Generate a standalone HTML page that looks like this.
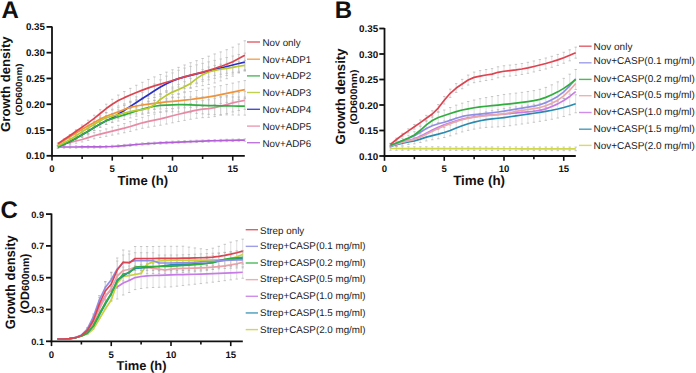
<!DOCTYPE html><html><head><meta charset="utf-8"><style>html,body{margin:0;padding:0;background:#fff;}svg{display:block;}text{text-rendering:geometricPrecision;}</style></head><body><svg width="696" height="373" viewBox="0 0 696 373">
<rect width="696" height="373" fill="#fff"/>
<text x="1.6" y="17.6" font-size="24" font-weight="bold" font-family="Liberation Sans, sans-serif" fill="#111">A</text>
<line x1="52" y1="26.5" x2="52" y2="156.70000000000002" stroke="#111" stroke-width="1.8"/>
<line x1="51.1" y1="155.8" x2="244.8" y2="155.8" stroke="#111" stroke-width="1.8"/>
<line x1="46.5" y1="155.80" x2="52" y2="155.80" stroke="#111" stroke-width="1.8"/>
<text x="45" y="159.30" text-anchor="end" font-size="9.8" font-weight="bold" font-family="Liberation Sans, sans-serif" fill="#111">0.10</text>
<line x1="46.5" y1="130.02" x2="52" y2="130.02" stroke="#111" stroke-width="1.8"/>
<text x="45" y="133.52" text-anchor="end" font-size="9.8" font-weight="bold" font-family="Liberation Sans, sans-serif" fill="#111">0.15</text>
<line x1="46.5" y1="104.24" x2="52" y2="104.24" stroke="#111" stroke-width="1.8"/>
<text x="45" y="107.74" text-anchor="end" font-size="9.8" font-weight="bold" font-family="Liberation Sans, sans-serif" fill="#111">0.20</text>
<line x1="46.5" y1="78.46" x2="52" y2="78.46" stroke="#111" stroke-width="1.8"/>
<text x="45" y="81.96" text-anchor="end" font-size="9.8" font-weight="bold" font-family="Liberation Sans, sans-serif" fill="#111">0.25</text>
<line x1="46.5" y1="52.68" x2="52" y2="52.68" stroke="#111" stroke-width="1.8"/>
<text x="45" y="56.18" text-anchor="end" font-size="9.8" font-weight="bold" font-family="Liberation Sans, sans-serif" fill="#111">0.30</text>
<line x1="46.5" y1="26.90" x2="52" y2="26.90" stroke="#111" stroke-width="1.8"/>
<text x="45" y="30.40" text-anchor="end" font-size="9.8" font-weight="bold" font-family="Liberation Sans, sans-serif" fill="#111">0.35</text>
<line x1="52.00" y1="155.8" x2="52.00" y2="160.60000000000002" stroke="#111" stroke-width="1.6"/>
<text x="52.00" y="172.2" text-anchor="middle" font-size="9.6" font-weight="bold" font-family="Liberation Sans, sans-serif" fill="#111">0</text>
<line x1="112.25" y1="155.8" x2="112.25" y2="160.60000000000002" stroke="#111" stroke-width="1.6"/>
<text x="112.25" y="172.2" text-anchor="middle" font-size="9.6" font-weight="bold" font-family="Liberation Sans, sans-serif" fill="#111">5</text>
<line x1="172.50" y1="155.8" x2="172.50" y2="160.60000000000002" stroke="#111" stroke-width="1.6"/>
<text x="172.50" y="172.2" text-anchor="middle" font-size="9.6" font-weight="bold" font-family="Liberation Sans, sans-serif" fill="#111">10</text>
<line x1="232.75" y1="155.8" x2="232.75" y2="160.60000000000002" stroke="#111" stroke-width="1.6"/>
<text x="232.75" y="172.2" text-anchor="middle" font-size="9.6" font-weight="bold" font-family="Liberation Sans, sans-serif" fill="#111">15</text>
<line x1="82.12" y1="155.8" x2="82.12" y2="159.0" stroke="#111" stroke-width="1.6"/>
<line x1="142.38" y1="155.8" x2="142.38" y2="159.0" stroke="#111" stroke-width="1.6"/>
<line x1="202.62" y1="155.8" x2="202.62" y2="159.0" stroke="#111" stroke-width="1.6"/>
<text transform="translate(10.2,131.9) rotate(-90)" font-size="13" font-weight="bold" font-family="Liberation Sans, sans-serif" fill="#111" textLength="95.5" lengthAdjust="spacingAndGlyphs">Growth density</text>
<text transform="translate(21.8,115.6) rotate(-90)" font-size="9" font-weight="bold" font-family="Liberation Sans, sans-serif" fill="#111" textLength="52" lengthAdjust="spacingAndGlyphs">(OD600nm)</text>
<text x="117.4" y="185" font-size="13.1" font-weight="bold" font-family="Liberation Sans, sans-serif" fill="#111">Time (h)</text>
<path d="M58.02,144.08 V146.68" stroke="#c4c4c4" stroke-width="0.55" fill="none"/>
<path d="M56.82,144.08 h2.4 M56.82,146.68 h2.4" stroke="#a4a4a4" stroke-width="0.6" fill="none"/>
<path d="M64.05,142.34 V145.54" stroke="#c4c4c4" stroke-width="0.55" fill="none"/>
<path d="M62.85,142.34 h2.4 M62.85,145.54 h2.4" stroke="#a4a4a4" stroke-width="0.6" fill="none"/>
<path d="M70.08,140.58 V144.38" stroke="#c4c4c4" stroke-width="0.55" fill="none"/>
<path d="M68.88,140.58 h2.4 M68.88,144.38 h2.4" stroke="#a4a4a4" stroke-width="0.6" fill="none"/>
<path d="M76.10,138.82 V143.22" stroke="#c4c4c4" stroke-width="0.55" fill="none"/>
<path d="M74.90,138.82 h2.4 M74.90,143.22 h2.4" stroke="#a4a4a4" stroke-width="0.6" fill="none"/>
<path d="M82.12,136.97 V141.97" stroke="#c4c4c4" stroke-width="0.55" fill="none"/>
<path d="M80.92,136.97 h2.4 M80.92,141.97 h2.4" stroke="#a4a4a4" stroke-width="0.6" fill="none"/>
<path d="M88.15,134.82 V140.42" stroke="#c4c4c4" stroke-width="0.55" fill="none"/>
<path d="M86.95,134.82 h2.4 M86.95,140.42 h2.4" stroke="#a4a4a4" stroke-width="0.6" fill="none"/>
<path d="M94.18,132.64 V138.84" stroke="#c4c4c4" stroke-width="0.55" fill="none"/>
<path d="M92.98,132.64 h2.4 M92.98,138.84 h2.4" stroke="#a4a4a4" stroke-width="0.6" fill="none"/>
<path d="M100.20,130.71 V137.51" stroke="#c4c4c4" stroke-width="0.55" fill="none"/>
<path d="M99.00,130.71 h2.4 M99.00,137.51 h2.4" stroke="#a4a4a4" stroke-width="0.6" fill="none"/>
<path d="M106.22,128.91 V136.31" stroke="#c4c4c4" stroke-width="0.55" fill="none"/>
<path d="M105.02,128.91 h2.4 M105.02,136.31 h2.4" stroke="#a4a4a4" stroke-width="0.6" fill="none"/>
<path d="M112.25,127.11 V135.11" stroke="#c4c4c4" stroke-width="0.55" fill="none"/>
<path d="M111.05,127.11 h2.4 M111.05,135.11 h2.4" stroke="#a4a4a4" stroke-width="0.6" fill="none"/>
<path d="M118.28,125.35 V133.95" stroke="#c4c4c4" stroke-width="0.55" fill="none"/>
<path d="M117.08,125.35 h2.4 M117.08,133.95 h2.4" stroke="#a4a4a4" stroke-width="0.6" fill="none"/>
<path d="M124.30,123.56 V132.76" stroke="#c4c4c4" stroke-width="0.55" fill="none"/>
<path d="M123.10,123.56 h2.4 M123.10,132.76 h2.4" stroke="#a4a4a4" stroke-width="0.6" fill="none"/>
<path d="M130.32,121.60 V131.40" stroke="#c4c4c4" stroke-width="0.55" fill="none"/>
<path d="M129.12,121.60 h2.4 M129.12,131.40 h2.4" stroke="#a4a4a4" stroke-width="0.6" fill="none"/>
<path d="M136.35,119.40 V129.80" stroke="#c4c4c4" stroke-width="0.55" fill="none"/>
<path d="M135.15,119.40 h2.4 M135.15,129.80 h2.4" stroke="#a4a4a4" stroke-width="0.6" fill="none"/>
<path d="M142.38,117.31 V128.31" stroke="#c4c4c4" stroke-width="0.55" fill="none"/>
<path d="M141.18,117.31 h2.4 M141.18,128.31 h2.4" stroke="#a4a4a4" stroke-width="0.6" fill="none"/>
<path d="M148.40,115.58 V127.18" stroke="#c4c4c4" stroke-width="0.55" fill="none"/>
<path d="M147.20,115.58 h2.4 M147.20,127.18 h2.4" stroke="#a4a4a4" stroke-width="0.6" fill="none"/>
<path d="M154.43,114.01 V126.21" stroke="#c4c4c4" stroke-width="0.55" fill="none"/>
<path d="M153.23,114.01 h2.4 M153.23,126.21 h2.4" stroke="#a4a4a4" stroke-width="0.6" fill="none"/>
<path d="M160.45,112.42 V125.22" stroke="#c4c4c4" stroke-width="0.55" fill="none"/>
<path d="M159.25,112.42 h2.4 M159.25,125.22 h2.4" stroke="#a4a4a4" stroke-width="0.6" fill="none"/>
<path d="M166.48,110.66 V124.06" stroke="#c4c4c4" stroke-width="0.55" fill="none"/>
<path d="M165.28,110.66 h2.4 M165.28,124.06 h2.4" stroke="#a4a4a4" stroke-width="0.6" fill="none"/>
<path d="M172.50,108.80 V122.80" stroke="#c4c4c4" stroke-width="0.55" fill="none"/>
<path d="M171.30,108.80 h2.4 M171.30,122.80 h2.4" stroke="#a4a4a4" stroke-width="0.6" fill="none"/>
<path d="M178.53,106.96 V121.56" stroke="#c4c4c4" stroke-width="0.55" fill="none"/>
<path d="M177.33,106.96 h2.4 M177.33,121.56 h2.4" stroke="#a4a4a4" stroke-width="0.6" fill="none"/>
<path d="M184.55,105.21 V120.41" stroke="#c4c4c4" stroke-width="0.55" fill="none"/>
<path d="M183.35,105.21 h2.4 M183.35,120.41 h2.4" stroke="#a4a4a4" stroke-width="0.6" fill="none"/>
<path d="M190.58,103.47 V119.27" stroke="#c4c4c4" stroke-width="0.55" fill="none"/>
<path d="M189.38,103.47 h2.4 M189.38,119.27 h2.4" stroke="#a4a4a4" stroke-width="0.6" fill="none"/>
<path d="M196.60,101.87 V118.27" stroke="#c4c4c4" stroke-width="0.55" fill="none"/>
<path d="M195.40,101.87 h2.4 M195.40,118.27 h2.4" stroke="#a4a4a4" stroke-width="0.6" fill="none"/>
<path d="M202.62,100.67 V117.67" stroke="#c4c4c4" stroke-width="0.55" fill="none"/>
<path d="M201.43,100.67 h2.4 M201.43,117.67 h2.4" stroke="#a4a4a4" stroke-width="0.6" fill="none"/>
<path d="M208.65,99.75 V117.35" stroke="#c4c4c4" stroke-width="0.55" fill="none"/>
<path d="M207.45,99.75 h2.4 M207.45,117.35 h2.4" stroke="#a4a4a4" stroke-width="0.6" fill="none"/>
<path d="M214.68,98.62 V116.62" stroke="#c4c4c4" stroke-width="0.55" fill="none"/>
<path d="M213.48,98.62 h2.4 M213.48,116.62 h2.4" stroke="#a4a4a4" stroke-width="0.6" fill="none"/>
<path d="M220.70,97.18 V115.18" stroke="#c4c4c4" stroke-width="0.55" fill="none"/>
<path d="M219.50,97.18 h2.4 M219.50,115.18 h2.4" stroke="#a4a4a4" stroke-width="0.6" fill="none"/>
<path d="M226.73,95.52 V113.52" stroke="#c4c4c4" stroke-width="0.55" fill="none"/>
<path d="M225.53,95.52 h2.4 M225.53,113.52 h2.4" stroke="#a4a4a4" stroke-width="0.6" fill="none"/>
<path d="M232.75,93.94 V111.94" stroke="#c4c4c4" stroke-width="0.55" fill="none"/>
<path d="M231.55,93.94 h2.4 M231.55,111.94 h2.4" stroke="#a4a4a4" stroke-width="0.6" fill="none"/>
<path d="M238.78,92.51 V110.51" stroke="#c4c4c4" stroke-width="0.55" fill="none"/>
<path d="M237.58,92.51 h2.4 M237.58,110.51 h2.4" stroke="#a4a4a4" stroke-width="0.6" fill="none"/>
<path d="M244.80,91.30 V109.30" stroke="#c4c4c4" stroke-width="0.55" fill="none"/>
<path d="M243.60,91.30 h2.4 M243.60,109.30 h2.4" stroke="#a4a4a4" stroke-width="0.6" fill="none"/>
<path d="M58.02,145.80 V148.20" stroke="#c4c4c4" stroke-width="0.55" fill="none"/>
<path d="M56.82,145.80 h2.4 M56.82,148.20 h2.4" stroke="#a4a4a4" stroke-width="0.6" fill="none"/>
<path d="M64.05,145.80 V148.20" stroke="#c4c4c4" stroke-width="0.55" fill="none"/>
<path d="M62.85,145.80 h2.4 M62.85,148.20 h2.4" stroke="#a4a4a4" stroke-width="0.6" fill="none"/>
<path d="M70.08,145.79 V148.19" stroke="#c4c4c4" stroke-width="0.55" fill="none"/>
<path d="M68.88,145.79 h2.4 M68.88,148.19 h2.4" stroke="#a4a4a4" stroke-width="0.6" fill="none"/>
<path d="M76.10,145.78 V148.18" stroke="#c4c4c4" stroke-width="0.55" fill="none"/>
<path d="M74.90,145.78 h2.4 M74.90,148.18 h2.4" stroke="#a4a4a4" stroke-width="0.6" fill="none"/>
<path d="M82.12,145.76 V148.16" stroke="#c4c4c4" stroke-width="0.55" fill="none"/>
<path d="M80.92,145.76 h2.4 M80.92,148.16 h2.4" stroke="#a4a4a4" stroke-width="0.6" fill="none"/>
<path d="M88.15,145.75 V148.15" stroke="#c4c4c4" stroke-width="0.55" fill="none"/>
<path d="M86.95,145.75 h2.4 M86.95,148.15 h2.4" stroke="#a4a4a4" stroke-width="0.6" fill="none"/>
<path d="M94.18,145.72 V148.12" stroke="#c4c4c4" stroke-width="0.55" fill="none"/>
<path d="M92.98,145.72 h2.4 M92.98,148.12 h2.4" stroke="#a4a4a4" stroke-width="0.6" fill="none"/>
<path d="M100.20,145.70 V148.10" stroke="#c4c4c4" stroke-width="0.55" fill="none"/>
<path d="M99.00,145.70 h2.4 M99.00,148.10 h2.4" stroke="#a4a4a4" stroke-width="0.6" fill="none"/>
<path d="M106.22,145.57 V147.97" stroke="#c4c4c4" stroke-width="0.55" fill="none"/>
<path d="M105.02,145.57 h2.4 M105.02,147.97 h2.4" stroke="#a4a4a4" stroke-width="0.6" fill="none"/>
<path d="M112.25,145.28 V147.68" stroke="#c4c4c4" stroke-width="0.55" fill="none"/>
<path d="M111.05,145.28 h2.4 M111.05,147.68 h2.4" stroke="#a4a4a4" stroke-width="0.6" fill="none"/>
<path d="M118.28,144.87 V147.27" stroke="#c4c4c4" stroke-width="0.55" fill="none"/>
<path d="M117.08,144.87 h2.4 M117.08,147.27 h2.4" stroke="#a4a4a4" stroke-width="0.6" fill="none"/>
<path d="M124.30,144.38 V146.78" stroke="#c4c4c4" stroke-width="0.55" fill="none"/>
<path d="M123.10,144.38 h2.4 M123.10,146.78 h2.4" stroke="#a4a4a4" stroke-width="0.6" fill="none"/>
<path d="M130.32,143.84 V146.24" stroke="#c4c4c4" stroke-width="0.55" fill="none"/>
<path d="M129.12,143.84 h2.4 M129.12,146.24 h2.4" stroke="#a4a4a4" stroke-width="0.6" fill="none"/>
<path d="M136.35,143.31 V145.71" stroke="#c4c4c4" stroke-width="0.55" fill="none"/>
<path d="M135.15,143.31 h2.4 M135.15,145.71 h2.4" stroke="#a4a4a4" stroke-width="0.6" fill="none"/>
<path d="M142.38,142.81 V145.21" stroke="#c4c4c4" stroke-width="0.55" fill="none"/>
<path d="M141.18,142.81 h2.4 M141.18,145.21 h2.4" stroke="#a4a4a4" stroke-width="0.6" fill="none"/>
<path d="M148.40,142.39 V144.79" stroke="#c4c4c4" stroke-width="0.55" fill="none"/>
<path d="M147.20,142.39 h2.4 M147.20,144.79 h2.4" stroke="#a4a4a4" stroke-width="0.6" fill="none"/>
<path d="M154.43,142.06 V144.46" stroke="#c4c4c4" stroke-width="0.55" fill="none"/>
<path d="M153.23,142.06 h2.4 M153.23,144.46 h2.4" stroke="#a4a4a4" stroke-width="0.6" fill="none"/>
<path d="M160.45,141.74 V144.14" stroke="#c4c4c4" stroke-width="0.55" fill="none"/>
<path d="M159.25,141.74 h2.4 M159.25,144.14 h2.4" stroke="#a4a4a4" stroke-width="0.6" fill="none"/>
<path d="M166.48,141.43 V143.83" stroke="#c4c4c4" stroke-width="0.55" fill="none"/>
<path d="M165.28,141.43 h2.4 M165.28,143.83 h2.4" stroke="#a4a4a4" stroke-width="0.6" fill="none"/>
<path d="M172.50,141.13 V143.53" stroke="#c4c4c4" stroke-width="0.55" fill="none"/>
<path d="M171.30,141.13 h2.4 M171.30,143.53 h2.4" stroke="#a4a4a4" stroke-width="0.6" fill="none"/>
<path d="M178.53,140.84 V143.24" stroke="#c4c4c4" stroke-width="0.55" fill="none"/>
<path d="M177.33,140.84 h2.4 M177.33,143.24 h2.4" stroke="#a4a4a4" stroke-width="0.6" fill="none"/>
<path d="M184.55,140.58 V142.98" stroke="#c4c4c4" stroke-width="0.55" fill="none"/>
<path d="M183.35,140.58 h2.4 M183.35,142.98 h2.4" stroke="#a4a4a4" stroke-width="0.6" fill="none"/>
<path d="M190.58,140.34 V142.74" stroke="#c4c4c4" stroke-width="0.55" fill="none"/>
<path d="M189.38,140.34 h2.4 M189.38,142.74 h2.4" stroke="#a4a4a4" stroke-width="0.6" fill="none"/>
<path d="M196.60,140.11 V142.51" stroke="#c4c4c4" stroke-width="0.55" fill="none"/>
<path d="M195.40,140.11 h2.4 M195.40,142.51 h2.4" stroke="#a4a4a4" stroke-width="0.6" fill="none"/>
<path d="M202.62,139.92 V142.32" stroke="#c4c4c4" stroke-width="0.55" fill="none"/>
<path d="M201.43,139.92 h2.4 M201.43,142.32 h2.4" stroke="#a4a4a4" stroke-width="0.6" fill="none"/>
<path d="M208.65,139.73 V142.13" stroke="#c4c4c4" stroke-width="0.55" fill="none"/>
<path d="M207.45,139.73 h2.4 M207.45,142.13 h2.4" stroke="#a4a4a4" stroke-width="0.6" fill="none"/>
<path d="M214.68,139.55 V141.95" stroke="#c4c4c4" stroke-width="0.55" fill="none"/>
<path d="M213.48,139.55 h2.4 M213.48,141.95 h2.4" stroke="#a4a4a4" stroke-width="0.6" fill="none"/>
<path d="M220.70,139.39 V141.79" stroke="#c4c4c4" stroke-width="0.55" fill="none"/>
<path d="M219.50,139.39 h2.4 M219.50,141.79 h2.4" stroke="#a4a4a4" stroke-width="0.6" fill="none"/>
<path d="M226.73,139.24 V141.64" stroke="#c4c4c4" stroke-width="0.55" fill="none"/>
<path d="M225.53,139.24 h2.4 M225.53,141.64 h2.4" stroke="#a4a4a4" stroke-width="0.6" fill="none"/>
<path d="M232.75,139.10 V141.50" stroke="#c4c4c4" stroke-width="0.55" fill="none"/>
<path d="M231.55,139.10 h2.4 M231.55,141.50 h2.4" stroke="#a4a4a4" stroke-width="0.6" fill="none"/>
<path d="M238.78,138.99 V141.39" stroke="#c4c4c4" stroke-width="0.55" fill="none"/>
<path d="M237.58,138.99 h2.4 M237.58,141.39 h2.4" stroke="#a4a4a4" stroke-width="0.6" fill="none"/>
<path d="M244.80,138.90 V141.30" stroke="#c4c4c4" stroke-width="0.55" fill="none"/>
<path d="M243.60,138.90 h2.4 M243.60,141.30 h2.4" stroke="#a4a4a4" stroke-width="0.6" fill="none"/>
<path d="M64.05,143.49 V145.09" stroke="#c4c4c4" stroke-width="0.55" fill="none"/>
<path d="M62.85,143.49 h2.4 M62.85,145.09 h2.4" stroke="#a4a4a4" stroke-width="0.6" fill="none"/>
<path d="M70.08,140.26 V142.66" stroke="#c4c4c4" stroke-width="0.55" fill="none"/>
<path d="M68.88,140.26 h2.4 M68.88,142.66 h2.4" stroke="#a4a4a4" stroke-width="0.6" fill="none"/>
<path d="M76.10,136.62 V139.82" stroke="#c4c4c4" stroke-width="0.55" fill="none"/>
<path d="M74.90,136.62 h2.4 M74.90,139.82 h2.4" stroke="#a4a4a4" stroke-width="0.6" fill="none"/>
<path d="M82.12,132.73 V136.73" stroke="#c4c4c4" stroke-width="0.55" fill="none"/>
<path d="M80.92,132.73 h2.4 M80.92,136.73 h2.4" stroke="#a4a4a4" stroke-width="0.6" fill="none"/>
<path d="M88.15,128.77 V133.57" stroke="#c4c4c4" stroke-width="0.55" fill="none"/>
<path d="M86.95,128.77 h2.4 M86.95,133.57 h2.4" stroke="#a4a4a4" stroke-width="0.6" fill="none"/>
<path d="M94.18,124.80 V130.40" stroke="#c4c4c4" stroke-width="0.55" fill="none"/>
<path d="M92.98,124.80 h2.4 M92.98,130.40 h2.4" stroke="#a4a4a4" stroke-width="0.6" fill="none"/>
<path d="M100.20,120.76 V127.16" stroke="#c4c4c4" stroke-width="0.55" fill="none"/>
<path d="M99.00,120.76 h2.4 M99.00,127.16 h2.4" stroke="#a4a4a4" stroke-width="0.6" fill="none"/>
<path d="M106.22,117.10 V124.30" stroke="#c4c4c4" stroke-width="0.55" fill="none"/>
<path d="M105.02,117.10 h2.4 M105.02,124.30 h2.4" stroke="#a4a4a4" stroke-width="0.6" fill="none"/>
<path d="M112.25,114.10 V122.10" stroke="#c4c4c4" stroke-width="0.55" fill="none"/>
<path d="M111.05,114.10 h2.4 M111.05,122.10 h2.4" stroke="#a4a4a4" stroke-width="0.6" fill="none"/>
<path d="M118.28,109.82 V118.62" stroke="#c4c4c4" stroke-width="0.55" fill="none"/>
<path d="M117.08,109.82 h2.4 M117.08,118.62 h2.4" stroke="#a4a4a4" stroke-width="0.6" fill="none"/>
<path d="M124.30,105.47 V115.07" stroke="#c4c4c4" stroke-width="0.55" fill="none"/>
<path d="M123.10,105.47 h2.4 M123.10,115.07 h2.4" stroke="#a4a4a4" stroke-width="0.6" fill="none"/>
<path d="M130.32,101.15 V111.55" stroke="#c4c4c4" stroke-width="0.55" fill="none"/>
<path d="M129.12,101.15 h2.4 M129.12,111.55 h2.4" stroke="#a4a4a4" stroke-width="0.6" fill="none"/>
<path d="M136.35,96.83 V108.03" stroke="#c4c4c4" stroke-width="0.55" fill="none"/>
<path d="M135.15,96.83 h2.4 M135.15,108.03 h2.4" stroke="#a4a4a4" stroke-width="0.6" fill="none"/>
<path d="M142.38,92.53 V104.53" stroke="#c4c4c4" stroke-width="0.55" fill="none"/>
<path d="M141.18,92.53 h2.4 M141.18,104.53 h2.4" stroke="#a4a4a4" stroke-width="0.6" fill="none"/>
<path d="M148.40,88.31 V101.11" stroke="#c4c4c4" stroke-width="0.55" fill="none"/>
<path d="M147.20,88.31 h2.4 M147.20,101.11 h2.4" stroke="#a4a4a4" stroke-width="0.6" fill="none"/>
<path d="M154.43,84.03 V97.63" stroke="#c4c4c4" stroke-width="0.55" fill="none"/>
<path d="M153.23,84.03 h2.4 M153.23,97.63 h2.4" stroke="#a4a4a4" stroke-width="0.6" fill="none"/>
<path d="M160.45,79.84 V94.24" stroke="#c4c4c4" stroke-width="0.55" fill="none"/>
<path d="M159.25,79.84 h2.4 M159.25,94.24 h2.4" stroke="#a4a4a4" stroke-width="0.6" fill="none"/>
<path d="M166.48,76.14 V91.34" stroke="#c4c4c4" stroke-width="0.55" fill="none"/>
<path d="M165.28,76.14 h2.4 M165.28,91.34 h2.4" stroke="#a4a4a4" stroke-width="0.6" fill="none"/>
<path d="M172.50,72.90 V88.90" stroke="#c4c4c4" stroke-width="0.55" fill="none"/>
<path d="M171.30,72.90 h2.4 M171.30,88.90 h2.4" stroke="#a4a4a4" stroke-width="0.6" fill="none"/>
<path d="M178.53,70.26 V87.06" stroke="#c4c4c4" stroke-width="0.55" fill="none"/>
<path d="M177.33,70.26 h2.4 M177.33,87.06 h2.4" stroke="#a4a4a4" stroke-width="0.6" fill="none"/>
<path d="M184.55,68.05 V85.65" stroke="#c4c4c4" stroke-width="0.55" fill="none"/>
<path d="M183.35,68.05 h2.4 M183.35,85.65 h2.4" stroke="#a4a4a4" stroke-width="0.6" fill="none"/>
<path d="M190.58,66.36 V84.36" stroke="#c4c4c4" stroke-width="0.55" fill="none"/>
<path d="M189.38,66.36 h2.4 M189.38,84.36 h2.4" stroke="#a4a4a4" stroke-width="0.6" fill="none"/>
<path d="M196.60,64.85 V82.85" stroke="#c4c4c4" stroke-width="0.55" fill="none"/>
<path d="M195.40,64.85 h2.4 M195.40,82.85 h2.4" stroke="#a4a4a4" stroke-width="0.6" fill="none"/>
<path d="M202.62,63.36 V81.36" stroke="#c4c4c4" stroke-width="0.55" fill="none"/>
<path d="M201.43,63.36 h2.4 M201.43,81.36 h2.4" stroke="#a4a4a4" stroke-width="0.6" fill="none"/>
<path d="M208.65,61.87 V79.87" stroke="#c4c4c4" stroke-width="0.55" fill="none"/>
<path d="M207.45,61.87 h2.4 M207.45,79.87 h2.4" stroke="#a4a4a4" stroke-width="0.6" fill="none"/>
<path d="M214.68,60.41 V78.41" stroke="#c4c4c4" stroke-width="0.55" fill="none"/>
<path d="M213.48,60.41 h2.4 M213.48,78.41 h2.4" stroke="#a4a4a4" stroke-width="0.6" fill="none"/>
<path d="M220.70,58.97 V76.97" stroke="#c4c4c4" stroke-width="0.55" fill="none"/>
<path d="M219.50,58.97 h2.4 M219.50,76.97 h2.4" stroke="#a4a4a4" stroke-width="0.6" fill="none"/>
<path d="M226.73,57.52 V75.52" stroke="#c4c4c4" stroke-width="0.55" fill="none"/>
<path d="M225.53,57.52 h2.4 M225.53,75.52 h2.4" stroke="#a4a4a4" stroke-width="0.6" fill="none"/>
<path d="M232.75,56.04 V74.04" stroke="#c4c4c4" stroke-width="0.55" fill="none"/>
<path d="M231.55,56.04 h2.4 M231.55,74.04 h2.4" stroke="#a4a4a4" stroke-width="0.6" fill="none"/>
<path d="M238.78,54.49 V72.49" stroke="#c4c4c4" stroke-width="0.55" fill="none"/>
<path d="M237.58,54.49 h2.4 M237.58,72.49 h2.4" stroke="#a4a4a4" stroke-width="0.6" fill="none"/>
<path d="M244.80,53.10 V71.10" stroke="#c4c4c4" stroke-width="0.55" fill="none"/>
<path d="M243.60,53.10 h2.4 M243.60,71.10 h2.4" stroke="#a4a4a4" stroke-width="0.6" fill="none"/>
<path d="M58.02,142.88 V145.48" stroke="#c4c4c4" stroke-width="0.55" fill="none"/>
<path d="M56.82,142.88 h2.4 M56.82,145.48 h2.4" stroke="#a4a4a4" stroke-width="0.6" fill="none"/>
<path d="M64.05,138.87 V142.07" stroke="#c4c4c4" stroke-width="0.55" fill="none"/>
<path d="M62.85,138.87 h2.4 M62.85,142.07 h2.4" stroke="#a4a4a4" stroke-width="0.6" fill="none"/>
<path d="M70.08,134.85 V138.65" stroke="#c4c4c4" stroke-width="0.55" fill="none"/>
<path d="M68.88,134.85 h2.4 M68.88,138.65 h2.4" stroke="#a4a4a4" stroke-width="0.6" fill="none"/>
<path d="M76.10,130.81 V135.21" stroke="#c4c4c4" stroke-width="0.55" fill="none"/>
<path d="M74.90,130.81 h2.4 M74.90,135.21 h2.4" stroke="#a4a4a4" stroke-width="0.6" fill="none"/>
<path d="M82.12,126.83 V131.83" stroke="#c4c4c4" stroke-width="0.55" fill="none"/>
<path d="M80.92,126.83 h2.4 M80.92,131.83 h2.4" stroke="#a4a4a4" stroke-width="0.6" fill="none"/>
<path d="M88.15,122.99 V128.59" stroke="#c4c4c4" stroke-width="0.55" fill="none"/>
<path d="M86.95,122.99 h2.4 M86.95,128.59 h2.4" stroke="#a4a4a4" stroke-width="0.6" fill="none"/>
<path d="M94.18,119.30 V125.50" stroke="#c4c4c4" stroke-width="0.55" fill="none"/>
<path d="M92.98,119.30 h2.4 M92.98,125.50 h2.4" stroke="#a4a4a4" stroke-width="0.6" fill="none"/>
<path d="M100.20,115.71 V122.51" stroke="#c4c4c4" stroke-width="0.55" fill="none"/>
<path d="M99.00,115.71 h2.4 M99.00,122.51 h2.4" stroke="#a4a4a4" stroke-width="0.6" fill="none"/>
<path d="M106.22,112.51 V119.91" stroke="#c4c4c4" stroke-width="0.55" fill="none"/>
<path d="M105.02,112.51 h2.4 M105.02,119.91 h2.4" stroke="#a4a4a4" stroke-width="0.6" fill="none"/>
<path d="M112.25,110.00 V118.00" stroke="#c4c4c4" stroke-width="0.55" fill="none"/>
<path d="M111.05,110.00 h2.4 M111.05,118.00 h2.4" stroke="#a4a4a4" stroke-width="0.6" fill="none"/>
<path d="M118.28,107.61 V116.21" stroke="#c4c4c4" stroke-width="0.55" fill="none"/>
<path d="M117.08,107.61 h2.4 M117.08,116.21 h2.4" stroke="#a4a4a4" stroke-width="0.6" fill="none"/>
<path d="M124.30,104.82 V114.02" stroke="#c4c4c4" stroke-width="0.55" fill="none"/>
<path d="M123.10,104.82 h2.4 M123.10,114.02 h2.4" stroke="#a4a4a4" stroke-width="0.6" fill="none"/>
<path d="M130.32,102.42 V112.22" stroke="#c4c4c4" stroke-width="0.55" fill="none"/>
<path d="M129.12,102.42 h2.4 M129.12,112.22 h2.4" stroke="#a4a4a4" stroke-width="0.6" fill="none"/>
<path d="M136.35,100.83 V111.23" stroke="#c4c4c4" stroke-width="0.55" fill="none"/>
<path d="M135.15,100.83 h2.4 M135.15,111.23 h2.4" stroke="#a4a4a4" stroke-width="0.6" fill="none"/>
<path d="M142.38,99.53 V110.53" stroke="#c4c4c4" stroke-width="0.55" fill="none"/>
<path d="M141.18,99.53 h2.4 M141.18,110.53 h2.4" stroke="#a4a4a4" stroke-width="0.6" fill="none"/>
<path d="M148.40,98.33 V109.93" stroke="#c4c4c4" stroke-width="0.55" fill="none"/>
<path d="M147.20,98.33 h2.4 M147.20,109.93 h2.4" stroke="#a4a4a4" stroke-width="0.6" fill="none"/>
<path d="M154.43,97.23 V109.43" stroke="#c4c4c4" stroke-width="0.55" fill="none"/>
<path d="M153.23,97.23 h2.4 M153.23,109.43 h2.4" stroke="#a4a4a4" stroke-width="0.6" fill="none"/>
<path d="M160.45,96.21 V109.01" stroke="#c4c4c4" stroke-width="0.55" fill="none"/>
<path d="M159.25,96.21 h2.4 M159.25,109.01 h2.4" stroke="#a4a4a4" stroke-width="0.6" fill="none"/>
<path d="M166.48,95.27 V108.67" stroke="#c4c4c4" stroke-width="0.55" fill="none"/>
<path d="M165.28,95.27 h2.4 M165.28,108.67 h2.4" stroke="#a4a4a4" stroke-width="0.6" fill="none"/>
<path d="M172.50,94.42 V108.42" stroke="#c4c4c4" stroke-width="0.55" fill="none"/>
<path d="M171.30,94.42 h2.4 M171.30,108.42 h2.4" stroke="#a4a4a4" stroke-width="0.6" fill="none"/>
<path d="M178.53,93.56 V108.16" stroke="#c4c4c4" stroke-width="0.55" fill="none"/>
<path d="M177.33,93.56 h2.4 M177.33,108.16 h2.4" stroke="#a4a4a4" stroke-width="0.6" fill="none"/>
<path d="M184.55,92.61 V107.81" stroke="#c4c4c4" stroke-width="0.55" fill="none"/>
<path d="M183.35,92.61 h2.4 M183.35,107.81 h2.4" stroke="#a4a4a4" stroke-width="0.6" fill="none"/>
<path d="M190.58,91.58 V107.38" stroke="#c4c4c4" stroke-width="0.55" fill="none"/>
<path d="M189.38,91.58 h2.4 M189.38,107.38 h2.4" stroke="#a4a4a4" stroke-width="0.6" fill="none"/>
<path d="M196.60,90.48 V106.88" stroke="#c4c4c4" stroke-width="0.55" fill="none"/>
<path d="M195.40,90.48 h2.4 M195.40,106.88 h2.4" stroke="#a4a4a4" stroke-width="0.6" fill="none"/>
<path d="M202.62,89.32 V106.32" stroke="#c4c4c4" stroke-width="0.55" fill="none"/>
<path d="M201.43,89.32 h2.4 M201.43,106.32 h2.4" stroke="#a4a4a4" stroke-width="0.6" fill="none"/>
<path d="M208.65,88.07 V105.67" stroke="#c4c4c4" stroke-width="0.55" fill="none"/>
<path d="M207.45,88.07 h2.4 M207.45,105.67 h2.4" stroke="#a4a4a4" stroke-width="0.6" fill="none"/>
<path d="M214.68,86.81 V104.81" stroke="#c4c4c4" stroke-width="0.55" fill="none"/>
<path d="M213.48,86.81 h2.4 M213.48,104.81 h2.4" stroke="#a4a4a4" stroke-width="0.6" fill="none"/>
<path d="M220.70,85.65 V103.65" stroke="#c4c4c4" stroke-width="0.55" fill="none"/>
<path d="M219.50,85.65 h2.4 M219.50,103.65 h2.4" stroke="#a4a4a4" stroke-width="0.6" fill="none"/>
<path d="M226.73,84.41 V102.41" stroke="#c4c4c4" stroke-width="0.55" fill="none"/>
<path d="M225.53,84.41 h2.4 M225.53,102.41 h2.4" stroke="#a4a4a4" stroke-width="0.6" fill="none"/>
<path d="M232.75,83.13 V101.13" stroke="#c4c4c4" stroke-width="0.55" fill="none"/>
<path d="M231.55,83.13 h2.4 M231.55,101.13 h2.4" stroke="#a4a4a4" stroke-width="0.6" fill="none"/>
<path d="M238.78,81.81 V99.81" stroke="#c4c4c4" stroke-width="0.55" fill="none"/>
<path d="M237.58,81.81 h2.4 M237.58,99.81 h2.4" stroke="#a4a4a4" stroke-width="0.6" fill="none"/>
<path d="M244.80,80.60 V98.60" stroke="#c4c4c4" stroke-width="0.55" fill="none"/>
<path d="M243.60,80.60 h2.4 M243.60,98.60 h2.4" stroke="#a4a4a4" stroke-width="0.6" fill="none"/>
<path d="M58.02,145.50 V148.10" stroke="#c4c4c4" stroke-width="0.55" fill="none"/>
<path d="M56.82,145.50 h2.4 M56.82,148.10 h2.4" stroke="#a4a4a4" stroke-width="0.6" fill="none"/>
<path d="M64.05,142.69 V145.89" stroke="#c4c4c4" stroke-width="0.55" fill="none"/>
<path d="M62.85,142.69 h2.4 M62.85,145.89 h2.4" stroke="#a4a4a4" stroke-width="0.6" fill="none"/>
<path d="M70.08,139.56 V143.36" stroke="#c4c4c4" stroke-width="0.55" fill="none"/>
<path d="M68.88,139.56 h2.4 M68.88,143.36 h2.4" stroke="#a4a4a4" stroke-width="0.6" fill="none"/>
<path d="M76.10,136.02 V140.42" stroke="#c4c4c4" stroke-width="0.55" fill="none"/>
<path d="M74.90,136.02 h2.4 M74.90,140.42 h2.4" stroke="#a4a4a4" stroke-width="0.6" fill="none"/>
<path d="M82.12,132.23 V137.23" stroke="#c4c4c4" stroke-width="0.55" fill="none"/>
<path d="M80.92,132.23 h2.4 M80.92,137.23 h2.4" stroke="#a4a4a4" stroke-width="0.6" fill="none"/>
<path d="M88.15,128.37 V133.97" stroke="#c4c4c4" stroke-width="0.55" fill="none"/>
<path d="M86.95,128.37 h2.4 M86.95,133.97 h2.4" stroke="#a4a4a4" stroke-width="0.6" fill="none"/>
<path d="M94.18,124.50 V130.70" stroke="#c4c4c4" stroke-width="0.55" fill="none"/>
<path d="M92.98,124.50 h2.4 M92.98,130.70 h2.4" stroke="#a4a4a4" stroke-width="0.6" fill="none"/>
<path d="M100.20,120.48 V127.28" stroke="#c4c4c4" stroke-width="0.55" fill="none"/>
<path d="M99.00,120.48 h2.4 M99.00,127.28 h2.4" stroke="#a4a4a4" stroke-width="0.6" fill="none"/>
<path d="M106.22,117.01 V124.41" stroke="#c4c4c4" stroke-width="0.55" fill="none"/>
<path d="M105.02,117.01 h2.4 M105.02,124.41 h2.4" stroke="#a4a4a4" stroke-width="0.6" fill="none"/>
<path d="M112.25,114.60 V122.60" stroke="#c4c4c4" stroke-width="0.55" fill="none"/>
<path d="M111.05,114.60 h2.4 M111.05,122.60 h2.4" stroke="#a4a4a4" stroke-width="0.6" fill="none"/>
<path d="M118.28,112.45 V121.05" stroke="#c4c4c4" stroke-width="0.55" fill="none"/>
<path d="M117.08,112.45 h2.4 M117.08,121.05 h2.4" stroke="#a4a4a4" stroke-width="0.6" fill="none"/>
<path d="M124.30,110.28 V119.48" stroke="#c4c4c4" stroke-width="0.55" fill="none"/>
<path d="M123.10,110.28 h2.4 M123.10,119.48 h2.4" stroke="#a4a4a4" stroke-width="0.6" fill="none"/>
<path d="M130.32,108.12 V117.92" stroke="#c4c4c4" stroke-width="0.55" fill="none"/>
<path d="M129.12,108.12 h2.4 M129.12,117.92 h2.4" stroke="#a4a4a4" stroke-width="0.6" fill="none"/>
<path d="M136.35,105.80 V116.20" stroke="#c4c4c4" stroke-width="0.55" fill="none"/>
<path d="M135.15,105.80 h2.4 M135.15,116.20 h2.4" stroke="#a4a4a4" stroke-width="0.6" fill="none"/>
<path d="M142.38,103.61 V114.61" stroke="#c4c4c4" stroke-width="0.55" fill="none"/>
<path d="M141.18,103.61 h2.4 M141.18,114.61 h2.4" stroke="#a4a4a4" stroke-width="0.6" fill="none"/>
<path d="M148.40,101.79 V113.39" stroke="#c4c4c4" stroke-width="0.55" fill="none"/>
<path d="M147.20,101.79 h2.4 M147.20,113.39 h2.4" stroke="#a4a4a4" stroke-width="0.6" fill="none"/>
<path d="M154.43,100.12 V112.32" stroke="#c4c4c4" stroke-width="0.55" fill="none"/>
<path d="M153.23,100.12 h2.4 M153.23,112.32 h2.4" stroke="#a4a4a4" stroke-width="0.6" fill="none"/>
<path d="M160.45,98.97 V111.77" stroke="#c4c4c4" stroke-width="0.55" fill="none"/>
<path d="M159.25,98.97 h2.4 M159.25,111.77 h2.4" stroke="#a4a4a4" stroke-width="0.6" fill="none"/>
<path d="M166.48,98.33 V111.73" stroke="#c4c4c4" stroke-width="0.55" fill="none"/>
<path d="M165.28,98.33 h2.4 M165.28,111.73 h2.4" stroke="#a4a4a4" stroke-width="0.6" fill="none"/>
<path d="M172.50,97.78 V111.78" stroke="#c4c4c4" stroke-width="0.55" fill="none"/>
<path d="M171.30,97.78 h2.4 M171.30,111.78 h2.4" stroke="#a4a4a4" stroke-width="0.6" fill="none"/>
<path d="M178.53,97.33 V111.93" stroke="#c4c4c4" stroke-width="0.55" fill="none"/>
<path d="M177.33,97.33 h2.4 M177.33,111.93 h2.4" stroke="#a4a4a4" stroke-width="0.6" fill="none"/>
<path d="M184.55,97.01 V112.21" stroke="#c4c4c4" stroke-width="0.55" fill="none"/>
<path d="M183.35,97.01 h2.4 M183.35,112.21 h2.4" stroke="#a4a4a4" stroke-width="0.6" fill="none"/>
<path d="M190.58,96.94 V112.74" stroke="#c4c4c4" stroke-width="0.55" fill="none"/>
<path d="M189.38,96.94 h2.4 M189.38,112.74 h2.4" stroke="#a4a4a4" stroke-width="0.6" fill="none"/>
<path d="M196.60,96.96 V113.36" stroke="#c4c4c4" stroke-width="0.55" fill="none"/>
<path d="M195.40,96.96 h2.4 M195.40,113.36 h2.4" stroke="#a4a4a4" stroke-width="0.6" fill="none"/>
<path d="M202.62,96.88 V113.88" stroke="#c4c4c4" stroke-width="0.55" fill="none"/>
<path d="M201.43,96.88 h2.4 M201.43,113.88 h2.4" stroke="#a4a4a4" stroke-width="0.6" fill="none"/>
<path d="M208.65,96.74 V114.34" stroke="#c4c4c4" stroke-width="0.55" fill="none"/>
<path d="M207.45,96.74 h2.4 M207.45,114.34 h2.4" stroke="#a4a4a4" stroke-width="0.6" fill="none"/>
<path d="M214.68,96.67 V114.67" stroke="#c4c4c4" stroke-width="0.55" fill="none"/>
<path d="M213.48,96.67 h2.4 M213.48,114.67 h2.4" stroke="#a4a4a4" stroke-width="0.6" fill="none"/>
<path d="M220.70,96.78 V114.78" stroke="#c4c4c4" stroke-width="0.55" fill="none"/>
<path d="M219.50,96.78 h2.4 M219.50,114.78 h2.4" stroke="#a4a4a4" stroke-width="0.6" fill="none"/>
<path d="M226.73,96.89 V114.89" stroke="#c4c4c4" stroke-width="0.55" fill="none"/>
<path d="M225.53,96.89 h2.4 M225.53,114.89 h2.4" stroke="#a4a4a4" stroke-width="0.6" fill="none"/>
<path d="M232.75,96.98 V114.98" stroke="#c4c4c4" stroke-width="0.55" fill="none"/>
<path d="M231.55,96.98 h2.4 M231.55,114.98 h2.4" stroke="#a4a4a4" stroke-width="0.6" fill="none"/>
<path d="M238.78,97.05 V115.05" stroke="#c4c4c4" stroke-width="0.55" fill="none"/>
<path d="M237.58,97.05 h2.4 M237.58,115.05 h2.4" stroke="#a4a4a4" stroke-width="0.6" fill="none"/>
<path d="M244.80,97.10 V115.10" stroke="#c4c4c4" stroke-width="0.55" fill="none"/>
<path d="M243.60,97.10 h2.4 M243.60,115.10 h2.4" stroke="#a4a4a4" stroke-width="0.6" fill="none"/>
<path d="M70.08,138.71 V140.21" stroke="#c4c4c4" stroke-width="0.55" fill="none"/>
<path d="M68.88,138.71 h2.4 M68.88,140.21 h2.4" stroke="#a4a4a4" stroke-width="0.6" fill="none"/>
<path d="M76.10,134.72 V136.72" stroke="#c4c4c4" stroke-width="0.55" fill="none"/>
<path d="M74.90,134.72 h2.4 M74.90,136.72 h2.4" stroke="#a4a4a4" stroke-width="0.6" fill="none"/>
<path d="M82.12,130.57 V133.07" stroke="#c4c4c4" stroke-width="0.55" fill="none"/>
<path d="M80.92,130.57 h2.4 M80.92,133.07 h2.4" stroke="#a4a4a4" stroke-width="0.6" fill="none"/>
<path d="M88.15,126.54 V129.54" stroke="#c4c4c4" stroke-width="0.55" fill="none"/>
<path d="M86.95,126.54 h2.4 M86.95,129.54 h2.4" stroke="#a4a4a4" stroke-width="0.6" fill="none"/>
<path d="M94.18,122.65 V126.15" stroke="#c4c4c4" stroke-width="0.55" fill="none"/>
<path d="M92.98,122.65 h2.4 M92.98,126.15 h2.4" stroke="#a4a4a4" stroke-width="0.6" fill="none"/>
<path d="M100.20,118.75 V122.75" stroke="#c4c4c4" stroke-width="0.55" fill="none"/>
<path d="M99.00,118.75 h2.4 M99.00,122.75 h2.4" stroke="#a4a4a4" stroke-width="0.6" fill="none"/>
<path d="M106.22,115.57 V120.07" stroke="#c4c4c4" stroke-width="0.55" fill="none"/>
<path d="M105.02,115.57 h2.4 M105.02,120.07 h2.4" stroke="#a4a4a4" stroke-width="0.6" fill="none"/>
<path d="M112.25,113.59 V118.59" stroke="#c4c4c4" stroke-width="0.55" fill="none"/>
<path d="M111.05,113.59 h2.4 M111.05,118.59 h2.4" stroke="#a4a4a4" stroke-width="0.6" fill="none"/>
<path d="M118.28,111.85 V117.35" stroke="#c4c4c4" stroke-width="0.55" fill="none"/>
<path d="M117.08,111.85 h2.4 M117.08,117.35 h2.4" stroke="#a4a4a4" stroke-width="0.6" fill="none"/>
<path d="M124.30,110.00 V116.00" stroke="#c4c4c4" stroke-width="0.55" fill="none"/>
<path d="M123.10,110.00 h2.4 M123.10,116.00 h2.4" stroke="#a4a4a4" stroke-width="0.6" fill="none"/>
<path d="M130.32,108.27 V114.77" stroke="#c4c4c4" stroke-width="0.55" fill="none"/>
<path d="M129.12,108.27 h2.4 M129.12,114.77 h2.4" stroke="#a4a4a4" stroke-width="0.6" fill="none"/>
<path d="M136.35,106.93 V113.93" stroke="#c4c4c4" stroke-width="0.55" fill="none"/>
<path d="M135.15,106.93 h2.4 M135.15,113.93 h2.4" stroke="#a4a4a4" stroke-width="0.6" fill="none"/>
<path d="M142.38,105.78 V113.28" stroke="#c4c4c4" stroke-width="0.55" fill="none"/>
<path d="M141.18,105.78 h2.4 M141.18,113.28 h2.4" stroke="#a4a4a4" stroke-width="0.6" fill="none"/>
<path d="M148.40,104.22 V112.22" stroke="#c4c4c4" stroke-width="0.55" fill="none"/>
<path d="M147.20,104.22 h2.4 M147.20,112.22 h2.4" stroke="#a4a4a4" stroke-width="0.6" fill="none"/>
<path d="M154.43,100.54 V109.04" stroke="#c4c4c4" stroke-width="0.55" fill="none"/>
<path d="M153.23,100.54 h2.4 M153.23,109.04 h2.4" stroke="#a4a4a4" stroke-width="0.6" fill="none"/>
<path d="M160.45,94.70 V103.70" stroke="#c4c4c4" stroke-width="0.55" fill="none"/>
<path d="M159.25,94.70 h2.4 M159.25,103.70 h2.4" stroke="#a4a4a4" stroke-width="0.6" fill="none"/>
<path d="M166.48,90.61 V100.11" stroke="#c4c4c4" stroke-width="0.55" fill="none"/>
<path d="M165.28,90.61 h2.4 M165.28,100.11 h2.4" stroke="#a4a4a4" stroke-width="0.6" fill="none"/>
<path d="M172.50,87.10 V97.10" stroke="#c4c4c4" stroke-width="0.55" fill="none"/>
<path d="M171.30,87.10 h2.4 M171.30,97.10 h2.4" stroke="#a4a4a4" stroke-width="0.6" fill="none"/>
<path d="M178.53,84.42 V94.42" stroke="#c4c4c4" stroke-width="0.55" fill="none"/>
<path d="M177.33,84.42 h2.4 M177.33,94.42 h2.4" stroke="#a4a4a4" stroke-width="0.6" fill="none"/>
<path d="M184.55,81.71 V91.71" stroke="#c4c4c4" stroke-width="0.55" fill="none"/>
<path d="M183.35,81.71 h2.4 M183.35,91.71 h2.4" stroke="#a4a4a4" stroke-width="0.6" fill="none"/>
<path d="M190.58,78.42 V88.42" stroke="#c4c4c4" stroke-width="0.55" fill="none"/>
<path d="M189.38,78.42 h2.4 M189.38,88.42 h2.4" stroke="#a4a4a4" stroke-width="0.6" fill="none"/>
<path d="M196.60,73.66 V83.66" stroke="#c4c4c4" stroke-width="0.55" fill="none"/>
<path d="M195.40,73.66 h2.4 M195.40,83.66 h2.4" stroke="#a4a4a4" stroke-width="0.6" fill="none"/>
<path d="M202.62,69.64 V79.64" stroke="#c4c4c4" stroke-width="0.55" fill="none"/>
<path d="M201.43,69.64 h2.4 M201.43,79.64 h2.4" stroke="#a4a4a4" stroke-width="0.6" fill="none"/>
<path d="M208.65,67.04 V77.04" stroke="#c4c4c4" stroke-width="0.55" fill="none"/>
<path d="M207.45,67.04 h2.4 M207.45,77.04 h2.4" stroke="#a4a4a4" stroke-width="0.6" fill="none"/>
<path d="M214.68,65.42 V75.42" stroke="#c4c4c4" stroke-width="0.55" fill="none"/>
<path d="M213.48,65.42 h2.4 M213.48,75.42 h2.4" stroke="#a4a4a4" stroke-width="0.6" fill="none"/>
<path d="M220.70,64.26 V74.26" stroke="#c4c4c4" stroke-width="0.55" fill="none"/>
<path d="M219.50,64.26 h2.4 M219.50,74.26 h2.4" stroke="#a4a4a4" stroke-width="0.6" fill="none"/>
<path d="M226.73,63.30 V73.30" stroke="#c4c4c4" stroke-width="0.55" fill="none"/>
<path d="M225.53,63.30 h2.4 M225.53,73.30 h2.4" stroke="#a4a4a4" stroke-width="0.6" fill="none"/>
<path d="M232.75,62.33 V72.33" stroke="#c4c4c4" stroke-width="0.55" fill="none"/>
<path d="M231.55,62.33 h2.4 M231.55,72.33 h2.4" stroke="#a4a4a4" stroke-width="0.6" fill="none"/>
<path d="M238.78,61.28 V71.28" stroke="#c4c4c4" stroke-width="0.55" fill="none"/>
<path d="M237.58,61.28 h2.4 M237.58,71.28 h2.4" stroke="#a4a4a4" stroke-width="0.6" fill="none"/>
<path d="M244.80,60.40 V70.40" stroke="#c4c4c4" stroke-width="0.55" fill="none"/>
<path d="M243.60,60.40 h2.4 M243.60,70.40 h2.4" stroke="#a4a4a4" stroke-width="0.6" fill="none"/>
<path d="M70.08,134.52 V136.37" stroke="#c4c4c4" stroke-width="0.55" fill="none"/>
<path d="M68.88,134.52 h2.4 M68.88,136.37 h2.4" stroke="#a4a4a4" stroke-width="0.6" fill="none"/>
<path d="M76.10,129.82 V132.82" stroke="#c4c4c4" stroke-width="0.55" fill="none"/>
<path d="M74.90,129.82 h2.4 M74.90,132.82 h2.4" stroke="#a4a4a4" stroke-width="0.6" fill="none"/>
<path d="M82.12,125.03 V129.18" stroke="#c4c4c4" stroke-width="0.55" fill="none"/>
<path d="M80.92,125.03 h2.4 M80.92,129.18 h2.4" stroke="#a4a4a4" stroke-width="0.6" fill="none"/>
<path d="M88.15,120.21 V125.51" stroke="#c4c4c4" stroke-width="0.55" fill="none"/>
<path d="M86.95,120.21 h2.4 M86.95,125.51 h2.4" stroke="#a4a4a4" stroke-width="0.6" fill="none"/>
<path d="M94.18,115.21 V121.66" stroke="#c4c4c4" stroke-width="0.55" fill="none"/>
<path d="M92.98,115.21 h2.4 M92.98,121.66 h2.4" stroke="#a4a4a4" stroke-width="0.6" fill="none"/>
<path d="M100.20,109.69 V117.29" stroke="#c4c4c4" stroke-width="0.55" fill="none"/>
<path d="M99.00,109.69 h2.4 M99.00,117.29 h2.4" stroke="#a4a4a4" stroke-width="0.6" fill="none"/>
<path d="M106.22,104.18 V112.93" stroke="#c4c4c4" stroke-width="0.55" fill="none"/>
<path d="M105.02,104.18 h2.4 M105.02,112.93 h2.4" stroke="#a4a4a4" stroke-width="0.6" fill="none"/>
<path d="M112.25,99.30 V109.20" stroke="#c4c4c4" stroke-width="0.55" fill="none"/>
<path d="M111.05,99.30 h2.4 M111.05,109.20 h2.4" stroke="#a4a4a4" stroke-width="0.6" fill="none"/>
<path d="M118.28,95.05 V106.10" stroke="#c4c4c4" stroke-width="0.55" fill="none"/>
<path d="M117.08,95.05 h2.4 M117.08,106.10 h2.4" stroke="#a4a4a4" stroke-width="0.6" fill="none"/>
<path d="M124.30,91.55 V103.75" stroke="#c4c4c4" stroke-width="0.55" fill="none"/>
<path d="M123.10,91.55 h2.4 M123.10,103.75 h2.4" stroke="#a4a4a4" stroke-width="0.6" fill="none"/>
<path d="M130.32,88.36 V101.71" stroke="#c4c4c4" stroke-width="0.55" fill="none"/>
<path d="M129.12,88.36 h2.4 M129.12,101.71 h2.4" stroke="#a4a4a4" stroke-width="0.6" fill="none"/>
<path d="M136.35,85.25 V99.75" stroke="#c4c4c4" stroke-width="0.55" fill="none"/>
<path d="M135.15,85.25 h2.4 M135.15,99.75 h2.4" stroke="#a4a4a4" stroke-width="0.6" fill="none"/>
<path d="M142.38,82.29 V97.94" stroke="#c4c4c4" stroke-width="0.55" fill="none"/>
<path d="M141.18,82.29 h2.4 M141.18,97.94 h2.4" stroke="#a4a4a4" stroke-width="0.6" fill="none"/>
<path d="M148.40,79.45 V96.25" stroke="#c4c4c4" stroke-width="0.55" fill="none"/>
<path d="M147.20,79.45 h2.4 M147.20,96.25 h2.4" stroke="#a4a4a4" stroke-width="0.6" fill="none"/>
<path d="M154.43,76.91 V94.86" stroke="#c4c4c4" stroke-width="0.55" fill="none"/>
<path d="M153.23,76.91 h2.4 M153.23,94.86 h2.4" stroke="#a4a4a4" stroke-width="0.6" fill="none"/>
<path d="M160.45,74.54 V93.64" stroke="#c4c4c4" stroke-width="0.55" fill="none"/>
<path d="M159.25,74.54 h2.4 M159.25,93.64 h2.4" stroke="#a4a4a4" stroke-width="0.6" fill="none"/>
<path d="M166.48,72.17 V92.42" stroke="#c4c4c4" stroke-width="0.55" fill="none"/>
<path d="M165.28,72.17 h2.4 M165.28,92.42 h2.4" stroke="#a4a4a4" stroke-width="0.6" fill="none"/>
<path d="M172.50,69.80 V91.20" stroke="#c4c4c4" stroke-width="0.55" fill="none"/>
<path d="M171.30,69.80 h2.4 M171.30,91.20 h2.4" stroke="#a4a4a4" stroke-width="0.6" fill="none"/>
<path d="M178.53,67.36 V89.91" stroke="#c4c4c4" stroke-width="0.55" fill="none"/>
<path d="M177.33,67.36 h2.4 M177.33,89.91 h2.4" stroke="#a4a4a4" stroke-width="0.6" fill="none"/>
<path d="M184.55,64.97 V88.67" stroke="#c4c4c4" stroke-width="0.55" fill="none"/>
<path d="M183.35,64.97 h2.4 M183.35,88.67 h2.4" stroke="#a4a4a4" stroke-width="0.6" fill="none"/>
<path d="M190.58,62.72 V87.57" stroke="#c4c4c4" stroke-width="0.55" fill="none"/>
<path d="M189.38,62.72 h2.4 M189.38,87.57 h2.4" stroke="#a4a4a4" stroke-width="0.6" fill="none"/>
<path d="M196.60,60.66 V86.66" stroke="#c4c4c4" stroke-width="0.55" fill="none"/>
<path d="M195.40,60.66 h2.4 M195.40,86.66 h2.4" stroke="#a4a4a4" stroke-width="0.6" fill="none"/>
<path d="M202.62,58.51 V85.66" stroke="#c4c4c4" stroke-width="0.55" fill="none"/>
<path d="M201.43,58.51 h2.4 M201.43,85.66 h2.4" stroke="#a4a4a4" stroke-width="0.6" fill="none"/>
<path d="M208.65,56.21 V84.51" stroke="#c4c4c4" stroke-width="0.55" fill="none"/>
<path d="M207.45,56.21 h2.4 M207.45,84.51 h2.4" stroke="#a4a4a4" stroke-width="0.6" fill="none"/>
<path d="M214.68,53.95 V82.95" stroke="#c4c4c4" stroke-width="0.55" fill="none"/>
<path d="M213.48,53.95 h2.4 M213.48,82.95 h2.4" stroke="#a4a4a4" stroke-width="0.6" fill="none"/>
<path d="M220.70,51.93 V80.93" stroke="#c4c4c4" stroke-width="0.55" fill="none"/>
<path d="M219.50,51.93 h2.4 M219.50,80.93 h2.4" stroke="#a4a4a4" stroke-width="0.6" fill="none"/>
<path d="M226.73,49.71 V78.71" stroke="#c4c4c4" stroke-width="0.55" fill="none"/>
<path d="M225.53,49.71 h2.4 M225.53,78.71 h2.4" stroke="#a4a4a4" stroke-width="0.6" fill="none"/>
<path d="M232.75,47.17 V76.17" stroke="#c4c4c4" stroke-width="0.55" fill="none"/>
<path d="M231.55,47.17 h2.4 M231.55,76.17 h2.4" stroke="#a4a4a4" stroke-width="0.6" fill="none"/>
<path d="M238.78,44.01 V73.01" stroke="#c4c4c4" stroke-width="0.55" fill="none"/>
<path d="M237.58,44.01 h2.4 M237.58,73.01 h2.4" stroke="#a4a4a4" stroke-width="0.6" fill="none"/>
<path d="M244.80,40.80 V69.80" stroke="#c4c4c4" stroke-width="0.55" fill="none"/>
<path d="M243.60,40.80 h2.4 M243.60,69.80 h2.4" stroke="#a4a4a4" stroke-width="0.6" fill="none"/>
<path d="M58.02,145.38 L64.05,143.94 L70.08,142.48 L76.10,141.02 L82.12,139.47 L88.15,137.62 L94.18,135.74 L100.20,134.11 L106.22,132.61 L112.25,131.11 L118.28,129.65 L124.30,128.16 L130.32,126.50 L136.35,124.60 L142.38,122.81 L148.40,121.38 L154.43,120.11 L160.45,118.82 L166.48,117.36 L172.50,115.80 L178.53,114.26 L184.55,112.81 L190.58,111.37 L196.60,110.07 L202.62,109.17 L208.65,108.55 L214.68,107.62 L220.70,106.18 L226.73,104.52 L232.75,102.94 L238.78,101.51 L244.80,100.30" stroke="#e98aa5" stroke-width="1.7" fill="none" stroke-linejoin="round"/>
<path d="M58.02,147.00 L64.05,147.00 L70.08,146.99 L76.10,146.98 L82.12,146.96 L88.15,146.95 L94.18,146.92 L100.20,146.90 L106.22,146.77 L112.25,146.48 L118.28,146.07 L124.30,145.58 L130.32,145.04 L136.35,144.51 L142.38,144.01 L148.40,143.59 L154.43,143.26 L160.45,142.94 L166.48,142.63 L172.50,142.33 L178.53,142.04 L184.55,141.78 L190.58,141.54 L196.60,141.31 L202.62,141.12 L208.65,140.93 L214.68,140.75 L220.70,140.59 L226.73,140.44 L232.75,140.30 L238.78,140.19 L244.80,140.10" stroke="#b45fd9" stroke-width="1.7" fill="none" stroke-linejoin="round"/>
<path d="M58.02,146.80 L64.05,144.29 L70.08,141.46 L76.10,138.22 L82.12,134.73 L88.15,131.17 L94.18,127.60 L100.20,123.96 L106.22,120.70 L112.25,118.10 L118.28,114.22 L124.30,110.27 L130.32,106.35 L136.35,102.43 L142.38,98.53 L148.40,94.71 L154.43,90.83 L160.45,87.04 L166.48,83.74 L172.50,80.90 L178.53,78.66 L184.55,76.85 L190.58,75.36 L196.60,73.85 L202.62,72.36 L208.65,70.87 L214.68,69.41 L220.70,67.97 L226.73,66.52 L232.75,65.04 L238.78,63.49 L244.80,62.10" stroke="#2a2fc8" stroke-width="1.7" fill="none" stroke-linejoin="round"/>
<path d="M58.02,144.18 L64.05,140.47 L70.08,136.75 L76.10,133.01 L82.12,129.33 L88.15,125.79 L94.18,122.40 L100.20,119.11 L106.22,116.21 L112.25,114.00 L118.28,111.91 L124.30,109.42 L130.32,107.32 L136.35,106.03 L142.38,105.03 L148.40,104.13 L154.43,103.33 L160.45,102.61 L166.48,101.97 L172.50,101.42 L178.53,100.86 L184.55,100.21 L190.58,99.48 L196.60,98.68 L202.62,97.82 L208.65,96.87 L214.68,95.81 L220.70,94.65 L226.73,93.41 L232.75,92.13 L238.78,90.81 L244.80,89.60" stroke="#f0943a" stroke-width="1.7" fill="none" stroke-linejoin="round"/>
<path d="M58.02,146.80 L64.05,144.29 L70.08,141.46 L76.10,138.22 L82.12,134.73 L88.15,131.17 L94.18,127.60 L100.20,123.88 L106.22,120.71 L112.25,118.60 L118.28,116.75 L124.30,114.88 L130.32,113.02 L136.35,111.00 L142.38,109.11 L148.40,107.59 L154.43,106.22 L160.45,105.37 L166.48,105.03 L172.50,104.78 L178.53,104.63 L184.55,104.61 L190.58,104.84 L196.60,105.16 L202.62,105.38 L208.65,105.54 L214.68,105.67 L220.70,105.78 L226.73,105.89 L232.75,105.98 L238.78,106.05 L244.80,106.10" stroke="#2fae3e" stroke-width="1.7" fill="none" stroke-linejoin="round"/>
<path d="M58.02,145.76 L64.05,142.76 L70.08,139.46 L76.10,135.72 L82.12,131.82 L88.15,128.04 L94.18,124.40 L100.20,120.75 L106.22,117.82 L112.25,116.09 L118.28,114.60 L124.30,113.00 L130.32,111.52 L136.35,110.43 L142.38,109.53 L148.40,108.22 L154.43,104.79 L160.45,99.20 L166.48,95.36 L172.50,92.10 L178.53,89.42 L184.55,86.71 L190.58,83.42 L196.60,78.66 L202.62,74.64 L208.65,72.04 L214.68,70.42 L220.70,69.26 L226.73,68.30 L232.75,67.33 L238.78,66.28 L244.80,65.40" stroke="#b8c92e" stroke-width="1.7" fill="none" stroke-linejoin="round"/>
<path d="M58.02,143.65 L64.05,139.56 L70.08,135.45 L76.10,131.32 L82.12,127.11 L88.15,122.86 L94.18,118.43 L100.20,113.49 L106.22,108.56 L112.25,104.25 L118.28,100.58 L124.30,97.65 L130.32,95.03 L136.35,92.50 L142.38,90.12 L148.40,87.85 L154.43,85.89 L160.45,84.09 L166.48,82.29 L172.50,80.50 L178.53,78.63 L184.55,76.82 L190.58,75.15 L196.60,73.66 L202.62,72.09 L208.65,70.36 L214.68,68.45 L220.70,66.43 L226.73,64.21 L232.75,61.67 L238.78,58.51 L244.80,55.30" stroke="#de4450" stroke-width="1.7" fill="none" stroke-linejoin="round"/>
<line x1="247" y1="42.00" x2="260" y2="42.00" stroke="#de4450" stroke-width="1.4" opacity="0.85"/>
<text x="262.5" y="45.80" font-size="9.8" font-family="Liberation Sans, sans-serif" fill="#1a1a1a">Nov only</text>
<line x1="247" y1="59.20" x2="260" y2="59.20" stroke="#f0943a" stroke-width="1.4" opacity="0.85"/>
<text x="262.5" y="62.70" font-size="9.8" font-family="Liberation Sans, sans-serif" fill="#1a1a1a">Nov+ADP1</text>
<line x1="247" y1="75.90" x2="260" y2="75.90" stroke="#2fae3e" stroke-width="1.4" opacity="0.85"/>
<text x="262.5" y="79.40" font-size="9.8" font-family="Liberation Sans, sans-serif" fill="#1a1a1a">Nov+ADP2</text>
<line x1="247" y1="92.50" x2="260" y2="92.50" stroke="#b8c92e" stroke-width="1.4" opacity="0.85"/>
<text x="262.5" y="96.30" font-size="9.8" font-family="Liberation Sans, sans-serif" fill="#1a1a1a">Nov+ADP3</text>
<line x1="247" y1="109.30" x2="260" y2="109.30" stroke="#2a2fc8" stroke-width="1.4" opacity="0.85"/>
<text x="262.5" y="113.10" font-size="9.8" font-family="Liberation Sans, sans-serif" fill="#1a1a1a">Nov+ADP4</text>
<line x1="247" y1="126.10" x2="260" y2="126.10" stroke="#e98aa5" stroke-width="1.4" opacity="0.85"/>
<text x="262.5" y="130.20" font-size="9.8" font-family="Liberation Sans, sans-serif" fill="#1a1a1a">Nov+ADP5</text>
<line x1="247" y1="142.70" x2="260" y2="142.70" stroke="#b45fd9" stroke-width="1.4" opacity="0.85"/>
<text x="262.5" y="146.50" font-size="9.8" font-family="Liberation Sans, sans-serif" fill="#1a1a1a">Nov+ADP6</text>
<text x="334.8" y="18.2" font-size="24" font-weight="bold" font-family="Liberation Sans, sans-serif" fill="#111">B</text>
<line x1="384.5" y1="28" x2="384.5" y2="156.9" stroke="#111" stroke-width="1.8"/>
<line x1="383.6" y1="156" x2="575.8" y2="156" stroke="#111" stroke-width="1.8"/>
<line x1="379.3" y1="156.00" x2="384.5" y2="156.00" stroke="#111" stroke-width="1.8"/>
<text x="378.2" y="159.50" text-anchor="end" font-size="9.8" font-weight="bold" font-family="Liberation Sans, sans-serif" fill="#111">0.10</text>
<line x1="379.3" y1="130.50" x2="384.5" y2="130.50" stroke="#111" stroke-width="1.8"/>
<text x="378.2" y="134.00" text-anchor="end" font-size="9.8" font-weight="bold" font-family="Liberation Sans, sans-serif" fill="#111">0.15</text>
<line x1="379.3" y1="105.00" x2="384.5" y2="105.00" stroke="#111" stroke-width="1.8"/>
<text x="378.2" y="108.50" text-anchor="end" font-size="9.8" font-weight="bold" font-family="Liberation Sans, sans-serif" fill="#111">0.20</text>
<line x1="379.3" y1="79.50" x2="384.5" y2="79.50" stroke="#111" stroke-width="1.8"/>
<text x="378.2" y="83.00" text-anchor="end" font-size="9.8" font-weight="bold" font-family="Liberation Sans, sans-serif" fill="#111">0.25</text>
<line x1="379.3" y1="54.00" x2="384.5" y2="54.00" stroke="#111" stroke-width="1.8"/>
<text x="378.2" y="57.50" text-anchor="end" font-size="9.8" font-weight="bold" font-family="Liberation Sans, sans-serif" fill="#111">0.30</text>
<line x1="379.3" y1="28.50" x2="384.5" y2="28.50" stroke="#111" stroke-width="1.8"/>
<text x="378.2" y="32.00" text-anchor="end" font-size="9.8" font-weight="bold" font-family="Liberation Sans, sans-serif" fill="#111">0.35</text>
<line x1="384.50" y1="156" x2="384.50" y2="160.8" stroke="#111" stroke-width="1.6"/>
<text x="384.50" y="172.3" text-anchor="middle" font-size="9.6" font-weight="bold" font-family="Liberation Sans, sans-serif" fill="#111">0</text>
<line x1="444.25" y1="156" x2="444.25" y2="160.8" stroke="#111" stroke-width="1.6"/>
<text x="444.25" y="172.3" text-anchor="middle" font-size="9.6" font-weight="bold" font-family="Liberation Sans, sans-serif" fill="#111">5</text>
<line x1="504.00" y1="156" x2="504.00" y2="160.8" stroke="#111" stroke-width="1.6"/>
<text x="504.00" y="172.3" text-anchor="middle" font-size="9.6" font-weight="bold" font-family="Liberation Sans, sans-serif" fill="#111">10</text>
<line x1="563.75" y1="156" x2="563.75" y2="160.8" stroke="#111" stroke-width="1.6"/>
<text x="563.75" y="172.3" text-anchor="middle" font-size="9.6" font-weight="bold" font-family="Liberation Sans, sans-serif" fill="#111">15</text>
<line x1="414.38" y1="156" x2="414.38" y2="159.2" stroke="#111" stroke-width="1.6"/>
<line x1="474.12" y1="156" x2="474.12" y2="159.2" stroke="#111" stroke-width="1.6"/>
<line x1="533.88" y1="156" x2="533.88" y2="159.2" stroke="#111" stroke-width="1.6"/>
<text transform="translate(344.7,144.4) rotate(-90)" font-size="13.4" font-weight="bold" font-family="Liberation Sans, sans-serif" fill="#111" textLength="96" lengthAdjust="spacingAndGlyphs">Growth density</text>
<text transform="translate(357,124.6) rotate(-90)" font-size="9.6" font-weight="bold" font-family="Liberation Sans, sans-serif" fill="#111" textLength="55" lengthAdjust="spacingAndGlyphs">(OD600nm)</text>
<text x="453.2" y="185" font-size="13.4" font-weight="bold" font-family="Liberation Sans, sans-serif" fill="#111">Time (h)</text>
<path d="M390.48,146.70 V150.30" stroke="#c4c4c4" stroke-width="0.55" fill="none"/>
<path d="M389.28,146.70 h2.4 M389.28,150.30 h2.4" stroke="#a4a4a4" stroke-width="0.6" fill="none"/>
<path d="M396.45,146.71 V150.31" stroke="#c4c4c4" stroke-width="0.55" fill="none"/>
<path d="M395.25,146.71 h2.4 M395.25,150.31 h2.4" stroke="#a4a4a4" stroke-width="0.6" fill="none"/>
<path d="M402.43,146.73 V150.33" stroke="#c4c4c4" stroke-width="0.55" fill="none"/>
<path d="M401.23,146.73 h2.4 M401.23,150.33 h2.4" stroke="#a4a4a4" stroke-width="0.6" fill="none"/>
<path d="M408.40,146.74 V150.34" stroke="#c4c4c4" stroke-width="0.55" fill="none"/>
<path d="M407.20,146.74 h2.4 M407.20,150.34 h2.4" stroke="#a4a4a4" stroke-width="0.6" fill="none"/>
<path d="M414.38,146.75 V150.35" stroke="#c4c4c4" stroke-width="0.55" fill="none"/>
<path d="M413.18,146.75 h2.4 M413.18,150.35 h2.4" stroke="#a4a4a4" stroke-width="0.6" fill="none"/>
<path d="M420.35,146.76 V150.36" stroke="#c4c4c4" stroke-width="0.55" fill="none"/>
<path d="M419.15,146.76 h2.4 M419.15,150.36 h2.4" stroke="#a4a4a4" stroke-width="0.6" fill="none"/>
<path d="M426.32,146.78 V150.38" stroke="#c4c4c4" stroke-width="0.55" fill="none"/>
<path d="M425.12,146.78 h2.4 M425.12,150.38 h2.4" stroke="#a4a4a4" stroke-width="0.6" fill="none"/>
<path d="M432.30,146.79 V150.39" stroke="#c4c4c4" stroke-width="0.55" fill="none"/>
<path d="M431.10,146.79 h2.4 M431.10,150.39 h2.4" stroke="#a4a4a4" stroke-width="0.6" fill="none"/>
<path d="M438.27,146.80 V150.40" stroke="#c4c4c4" stroke-width="0.55" fill="none"/>
<path d="M437.07,146.80 h2.4 M437.07,150.40 h2.4" stroke="#a4a4a4" stroke-width="0.6" fill="none"/>
<path d="M444.25,146.82 V150.42" stroke="#c4c4c4" stroke-width="0.55" fill="none"/>
<path d="M443.05,146.82 h2.4 M443.05,150.42 h2.4" stroke="#a4a4a4" stroke-width="0.6" fill="none"/>
<path d="M450.23,146.83 V150.43" stroke="#c4c4c4" stroke-width="0.55" fill="none"/>
<path d="M449.03,146.83 h2.4 M449.03,150.43 h2.4" stroke="#a4a4a4" stroke-width="0.6" fill="none"/>
<path d="M456.20,146.84 V150.44" stroke="#c4c4c4" stroke-width="0.55" fill="none"/>
<path d="M455.00,146.84 h2.4 M455.00,150.44 h2.4" stroke="#a4a4a4" stroke-width="0.6" fill="none"/>
<path d="M462.18,146.85 V150.45" stroke="#c4c4c4" stroke-width="0.55" fill="none"/>
<path d="M460.98,146.85 h2.4 M460.98,150.45 h2.4" stroke="#a4a4a4" stroke-width="0.6" fill="none"/>
<path d="M468.15,146.87 V150.47" stroke="#c4c4c4" stroke-width="0.55" fill="none"/>
<path d="M466.95,146.87 h2.4 M466.95,150.47 h2.4" stroke="#a4a4a4" stroke-width="0.6" fill="none"/>
<path d="M474.12,146.88 V150.48" stroke="#c4c4c4" stroke-width="0.55" fill="none"/>
<path d="M472.93,146.88 h2.4 M472.93,150.48 h2.4" stroke="#a4a4a4" stroke-width="0.6" fill="none"/>
<path d="M480.10,146.89 V150.49" stroke="#c4c4c4" stroke-width="0.55" fill="none"/>
<path d="M478.90,146.89 h2.4 M478.90,150.49 h2.4" stroke="#a4a4a4" stroke-width="0.6" fill="none"/>
<path d="M486.07,146.91 V150.51" stroke="#c4c4c4" stroke-width="0.55" fill="none"/>
<path d="M484.88,146.91 h2.4 M484.88,150.51 h2.4" stroke="#a4a4a4" stroke-width="0.6" fill="none"/>
<path d="M492.05,146.92 V150.52" stroke="#c4c4c4" stroke-width="0.55" fill="none"/>
<path d="M490.85,146.92 h2.4 M490.85,150.52 h2.4" stroke="#a4a4a4" stroke-width="0.6" fill="none"/>
<path d="M498.02,146.93 V150.53" stroke="#c4c4c4" stroke-width="0.55" fill="none"/>
<path d="M496.82,146.93 h2.4 M496.82,150.53 h2.4" stroke="#a4a4a4" stroke-width="0.6" fill="none"/>
<path d="M504.00,146.94 V150.54" stroke="#c4c4c4" stroke-width="0.55" fill="none"/>
<path d="M502.80,146.94 h2.4 M502.80,150.54 h2.4" stroke="#a4a4a4" stroke-width="0.6" fill="none"/>
<path d="M509.98,146.96 V150.56" stroke="#c4c4c4" stroke-width="0.55" fill="none"/>
<path d="M508.78,146.96 h2.4 M508.78,150.56 h2.4" stroke="#a4a4a4" stroke-width="0.6" fill="none"/>
<path d="M515.95,146.97 V150.57" stroke="#c4c4c4" stroke-width="0.55" fill="none"/>
<path d="M514.75,146.97 h2.4 M514.75,150.57 h2.4" stroke="#a4a4a4" stroke-width="0.6" fill="none"/>
<path d="M521.92,146.98 V150.58" stroke="#c4c4c4" stroke-width="0.55" fill="none"/>
<path d="M520.72,146.98 h2.4 M520.72,150.58 h2.4" stroke="#a4a4a4" stroke-width="0.6" fill="none"/>
<path d="M527.90,147.00 V150.60" stroke="#c4c4c4" stroke-width="0.55" fill="none"/>
<path d="M526.70,147.00 h2.4 M526.70,150.60 h2.4" stroke="#a4a4a4" stroke-width="0.6" fill="none"/>
<path d="M533.88,147.01 V150.61" stroke="#c4c4c4" stroke-width="0.55" fill="none"/>
<path d="M532.67,147.01 h2.4 M532.67,150.61 h2.4" stroke="#a4a4a4" stroke-width="0.6" fill="none"/>
<path d="M539.85,147.02 V150.62" stroke="#c4c4c4" stroke-width="0.55" fill="none"/>
<path d="M538.65,147.02 h2.4 M538.65,150.62 h2.4" stroke="#a4a4a4" stroke-width="0.6" fill="none"/>
<path d="M545.83,147.03 V150.63" stroke="#c4c4c4" stroke-width="0.55" fill="none"/>
<path d="M544.62,147.03 h2.4 M544.62,150.63 h2.4" stroke="#a4a4a4" stroke-width="0.6" fill="none"/>
<path d="M551.80,147.05 V150.65" stroke="#c4c4c4" stroke-width="0.55" fill="none"/>
<path d="M550.60,147.05 h2.4 M550.60,150.65 h2.4" stroke="#a4a4a4" stroke-width="0.6" fill="none"/>
<path d="M557.77,147.06 V150.66" stroke="#c4c4c4" stroke-width="0.55" fill="none"/>
<path d="M556.57,147.06 h2.4 M556.57,150.66 h2.4" stroke="#a4a4a4" stroke-width="0.6" fill="none"/>
<path d="M563.75,147.07 V150.67" stroke="#c4c4c4" stroke-width="0.55" fill="none"/>
<path d="M562.55,147.07 h2.4 M562.55,150.67 h2.4" stroke="#a4a4a4" stroke-width="0.6" fill="none"/>
<path d="M569.73,147.09 V150.69" stroke="#c4c4c4" stroke-width="0.55" fill="none"/>
<path d="M568.52,147.09 h2.4 M568.52,150.69 h2.4" stroke="#a4a4a4" stroke-width="0.6" fill="none"/>
<path d="M575.70,147.10 V150.70" stroke="#c4c4c4" stroke-width="0.55" fill="none"/>
<path d="M574.50,147.10 h2.4 M574.50,150.70 h2.4" stroke="#a4a4a4" stroke-width="0.6" fill="none"/>
<path d="M390.48,145.10 V147.90" stroke="#c4c4c4" stroke-width="0.55" fill="none"/>
<path d="M389.28,145.10 h2.4 M389.28,147.90 h2.4" stroke="#a4a4a4" stroke-width="0.6" fill="none"/>
<path d="M396.45,142.84 V146.44" stroke="#c4c4c4" stroke-width="0.55" fill="none"/>
<path d="M395.25,142.84 h2.4 M395.25,146.44 h2.4" stroke="#a4a4a4" stroke-width="0.6" fill="none"/>
<path d="M402.43,140.88 V145.28" stroke="#c4c4c4" stroke-width="0.55" fill="none"/>
<path d="M401.23,140.88 h2.4 M401.23,145.28 h2.4" stroke="#a4a4a4" stroke-width="0.6" fill="none"/>
<path d="M408.40,139.33 V144.53" stroke="#c4c4c4" stroke-width="0.55" fill="none"/>
<path d="M407.20,139.33 h2.4 M407.20,144.53 h2.4" stroke="#a4a4a4" stroke-width="0.6" fill="none"/>
<path d="M414.38,137.84 V143.84" stroke="#c4c4c4" stroke-width="0.55" fill="none"/>
<path d="M413.18,137.84 h2.4 M413.18,143.84 h2.4" stroke="#a4a4a4" stroke-width="0.6" fill="none"/>
<path d="M420.35,135.71 V142.51" stroke="#c4c4c4" stroke-width="0.55" fill="none"/>
<path d="M419.15,135.71 h2.4 M419.15,142.51 h2.4" stroke="#a4a4a4" stroke-width="0.6" fill="none"/>
<path d="M426.32,133.34 V140.94" stroke="#c4c4c4" stroke-width="0.55" fill="none"/>
<path d="M425.12,133.34 h2.4 M425.12,140.94 h2.4" stroke="#a4a4a4" stroke-width="0.6" fill="none"/>
<path d="M432.30,131.37 V139.77" stroke="#c4c4c4" stroke-width="0.55" fill="none"/>
<path d="M431.10,131.37 h2.4 M431.10,139.77 h2.4" stroke="#a4a4a4" stroke-width="0.6" fill="none"/>
<path d="M438.27,129.54 V138.74" stroke="#c4c4c4" stroke-width="0.55" fill="none"/>
<path d="M437.07,129.54 h2.4 M437.07,138.74 h2.4" stroke="#a4a4a4" stroke-width="0.6" fill="none"/>
<path d="M444.25,127.52 V137.52" stroke="#c4c4c4" stroke-width="0.55" fill="none"/>
<path d="M443.05,127.52 h2.4 M443.05,137.52 h2.4" stroke="#a4a4a4" stroke-width="0.6" fill="none"/>
<path d="M450.23,125.04 V135.84" stroke="#c4c4c4" stroke-width="0.55" fill="none"/>
<path d="M449.03,125.04 h2.4 M449.03,135.84 h2.4" stroke="#a4a4a4" stroke-width="0.6" fill="none"/>
<path d="M456.20,122.26 V133.86" stroke="#c4c4c4" stroke-width="0.55" fill="none"/>
<path d="M455.00,122.26 h2.4 M455.00,133.86 h2.4" stroke="#a4a4a4" stroke-width="0.6" fill="none"/>
<path d="M462.18,119.53 V131.93" stroke="#c4c4c4" stroke-width="0.55" fill="none"/>
<path d="M460.98,119.53 h2.4 M460.98,131.93 h2.4" stroke="#a4a4a4" stroke-width="0.6" fill="none"/>
<path d="M468.15,117.20 V130.40" stroke="#c4c4c4" stroke-width="0.55" fill="none"/>
<path d="M466.95,117.20 h2.4 M466.95,130.40 h2.4" stroke="#a4a4a4" stroke-width="0.6" fill="none"/>
<path d="M474.12,115.15 V129.15" stroke="#c4c4c4" stroke-width="0.55" fill="none"/>
<path d="M472.93,115.15 h2.4 M472.93,129.15 h2.4" stroke="#a4a4a4" stroke-width="0.6" fill="none"/>
<path d="M480.10,113.32 V128.12" stroke="#c4c4c4" stroke-width="0.55" fill="none"/>
<path d="M478.90,113.32 h2.4 M478.90,128.12 h2.4" stroke="#a4a4a4" stroke-width="0.6" fill="none"/>
<path d="M486.07,111.86 V127.46" stroke="#c4c4c4" stroke-width="0.55" fill="none"/>
<path d="M484.88,111.86 h2.4 M484.88,127.46 h2.4" stroke="#a4a4a4" stroke-width="0.6" fill="none"/>
<path d="M492.05,110.71 V127.11" stroke="#c4c4c4" stroke-width="0.55" fill="none"/>
<path d="M490.85,110.71 h2.4 M490.85,127.11 h2.4" stroke="#a4a4a4" stroke-width="0.6" fill="none"/>
<path d="M498.02,109.67 V126.87" stroke="#c4c4c4" stroke-width="0.55" fill="none"/>
<path d="M496.82,109.67 h2.4 M496.82,126.87 h2.4" stroke="#a4a4a4" stroke-width="0.6" fill="none"/>
<path d="M504.00,108.54 V126.54" stroke="#c4c4c4" stroke-width="0.55" fill="none"/>
<path d="M502.80,108.54 h2.4 M502.80,126.54 h2.4" stroke="#a4a4a4" stroke-width="0.6" fill="none"/>
<path d="M509.98,107.73 V125.73" stroke="#c4c4c4" stroke-width="0.55" fill="none"/>
<path d="M508.78,107.73 h2.4 M508.78,125.73 h2.4" stroke="#a4a4a4" stroke-width="0.6" fill="none"/>
<path d="M515.95,106.88 V124.88" stroke="#c4c4c4" stroke-width="0.55" fill="none"/>
<path d="M514.75,106.88 h2.4 M514.75,124.88 h2.4" stroke="#a4a4a4" stroke-width="0.6" fill="none"/>
<path d="M521.92,106.02 V124.02" stroke="#c4c4c4" stroke-width="0.55" fill="none"/>
<path d="M520.72,106.02 h2.4 M520.72,124.02 h2.4" stroke="#a4a4a4" stroke-width="0.6" fill="none"/>
<path d="M527.90,105.17 V123.17" stroke="#c4c4c4" stroke-width="0.55" fill="none"/>
<path d="M526.70,105.17 h2.4 M526.70,123.17 h2.4" stroke="#a4a4a4" stroke-width="0.6" fill="none"/>
<path d="M533.88,104.28 V122.28" stroke="#c4c4c4" stroke-width="0.55" fill="none"/>
<path d="M532.67,104.28 h2.4 M532.67,122.28 h2.4" stroke="#a4a4a4" stroke-width="0.6" fill="none"/>
<path d="M539.85,103.33 V121.33" stroke="#c4c4c4" stroke-width="0.55" fill="none"/>
<path d="M538.65,103.33 h2.4 M538.65,121.33 h2.4" stroke="#a4a4a4" stroke-width="0.6" fill="none"/>
<path d="M545.83,102.34 V120.34" stroke="#c4c4c4" stroke-width="0.55" fill="none"/>
<path d="M544.62,102.34 h2.4 M544.62,120.34 h2.4" stroke="#a4a4a4" stroke-width="0.6" fill="none"/>
<path d="M551.80,101.28 V119.28" stroke="#c4c4c4" stroke-width="0.55" fill="none"/>
<path d="M550.60,101.28 h2.4 M550.60,119.28 h2.4" stroke="#a4a4a4" stroke-width="0.6" fill="none"/>
<path d="M557.77,100.04 V118.04" stroke="#c4c4c4" stroke-width="0.55" fill="none"/>
<path d="M556.57,100.04 h2.4 M556.57,118.04 h2.4" stroke="#a4a4a4" stroke-width="0.6" fill="none"/>
<path d="M563.75,98.53 V116.53" stroke="#c4c4c4" stroke-width="0.55" fill="none"/>
<path d="M562.55,98.53 h2.4 M562.55,116.53 h2.4" stroke="#a4a4a4" stroke-width="0.6" fill="none"/>
<path d="M569.73,96.77 V114.77" stroke="#c4c4c4" stroke-width="0.55" fill="none"/>
<path d="M568.52,96.77 h2.4 M568.52,114.77 h2.4" stroke="#a4a4a4" stroke-width="0.6" fill="none"/>
<path d="M575.70,94.78 V112.78" stroke="#c4c4c4" stroke-width="0.55" fill="none"/>
<path d="M574.50,94.78 h2.4 M574.50,112.78 h2.4" stroke="#a4a4a4" stroke-width="0.6" fill="none"/>
<path d="M390.48,143.75 V146.65" stroke="#c4c4c4" stroke-width="0.55" fill="none"/>
<path d="M389.28,143.75 h2.4 M389.28,146.65 h2.4" stroke="#a4a4a4" stroke-width="0.6" fill="none"/>
<path d="M396.45,141.15 V144.95" stroke="#c4c4c4" stroke-width="0.55" fill="none"/>
<path d="M395.25,141.15 h2.4 M395.25,144.95 h2.4" stroke="#a4a4a4" stroke-width="0.6" fill="none"/>
<path d="M402.43,138.28 V142.98" stroke="#c4c4c4" stroke-width="0.55" fill="none"/>
<path d="M401.23,138.28 h2.4 M401.23,142.98 h2.4" stroke="#a4a4a4" stroke-width="0.6" fill="none"/>
<path d="M408.40,135.25 V140.85" stroke="#c4c4c4" stroke-width="0.55" fill="none"/>
<path d="M407.20,135.25 h2.4 M407.20,140.85 h2.4" stroke="#a4a4a4" stroke-width="0.6" fill="none"/>
<path d="M414.38,131.73 V138.23" stroke="#c4c4c4" stroke-width="0.55" fill="none"/>
<path d="M413.18,131.73 h2.4 M413.18,138.23 h2.4" stroke="#a4a4a4" stroke-width="0.6" fill="none"/>
<path d="M420.35,126.56 V133.96" stroke="#c4c4c4" stroke-width="0.55" fill="none"/>
<path d="M419.15,126.56 h2.4 M419.15,133.96 h2.4" stroke="#a4a4a4" stroke-width="0.6" fill="none"/>
<path d="M426.32,120.71 V129.01" stroke="#c4c4c4" stroke-width="0.55" fill="none"/>
<path d="M425.12,120.71 h2.4 M425.12,129.01 h2.4" stroke="#a4a4a4" stroke-width="0.6" fill="none"/>
<path d="M432.30,115.89 V125.09" stroke="#c4c4c4" stroke-width="0.55" fill="none"/>
<path d="M431.10,115.89 h2.4 M431.10,125.09 h2.4" stroke="#a4a4a4" stroke-width="0.6" fill="none"/>
<path d="M438.27,112.45 V122.55" stroke="#c4c4c4" stroke-width="0.55" fill="none"/>
<path d="M437.07,112.45 h2.4 M437.07,122.55 h2.4" stroke="#a4a4a4" stroke-width="0.6" fill="none"/>
<path d="M444.25,110.02 V121.02" stroke="#c4c4c4" stroke-width="0.55" fill="none"/>
<path d="M443.05,110.02 h2.4 M443.05,121.02 h2.4" stroke="#a4a4a4" stroke-width="0.6" fill="none"/>
<path d="M450.23,107.53 V119.43" stroke="#c4c4c4" stroke-width="0.55" fill="none"/>
<path d="M449.03,107.53 h2.4 M449.03,119.43 h2.4" stroke="#a4a4a4" stroke-width="0.6" fill="none"/>
<path d="M456.20,105.17 V117.97" stroke="#c4c4c4" stroke-width="0.55" fill="none"/>
<path d="M455.00,105.17 h2.4 M455.00,117.97 h2.4" stroke="#a4a4a4" stroke-width="0.6" fill="none"/>
<path d="M462.18,103.18 V116.88" stroke="#c4c4c4" stroke-width="0.55" fill="none"/>
<path d="M460.98,103.18 h2.4 M460.98,116.88 h2.4" stroke="#a4a4a4" stroke-width="0.6" fill="none"/>
<path d="M468.15,101.51 V116.11" stroke="#c4c4c4" stroke-width="0.55" fill="none"/>
<path d="M466.95,101.51 h2.4 M466.95,116.11 h2.4" stroke="#a4a4a4" stroke-width="0.6" fill="none"/>
<path d="M474.12,100.02 V115.52" stroke="#c4c4c4" stroke-width="0.55" fill="none"/>
<path d="M472.93,100.02 h2.4 M472.93,115.52 h2.4" stroke="#a4a4a4" stroke-width="0.6" fill="none"/>
<path d="M480.10,98.71 V115.11" stroke="#c4c4c4" stroke-width="0.55" fill="none"/>
<path d="M478.90,98.71 h2.4 M478.90,115.11 h2.4" stroke="#a4a4a4" stroke-width="0.6" fill="none"/>
<path d="M486.07,97.59 V114.89" stroke="#c4c4c4" stroke-width="0.55" fill="none"/>
<path d="M484.88,97.59 h2.4 M484.88,114.89 h2.4" stroke="#a4a4a4" stroke-width="0.6" fill="none"/>
<path d="M492.05,96.57 V114.77" stroke="#c4c4c4" stroke-width="0.55" fill="none"/>
<path d="M490.85,96.57 h2.4 M490.85,114.77 h2.4" stroke="#a4a4a4" stroke-width="0.6" fill="none"/>
<path d="M498.02,95.54 V114.64" stroke="#c4c4c4" stroke-width="0.55" fill="none"/>
<path d="M496.82,95.54 h2.4 M496.82,114.64 h2.4" stroke="#a4a4a4" stroke-width="0.6" fill="none"/>
<path d="M504.00,94.46 V114.46" stroke="#c4c4c4" stroke-width="0.55" fill="none"/>
<path d="M502.80,94.46 h2.4 M502.80,114.46 h2.4" stroke="#a4a4a4" stroke-width="0.6" fill="none"/>
<path d="M509.98,93.81 V113.81" stroke="#c4c4c4" stroke-width="0.55" fill="none"/>
<path d="M508.78,93.81 h2.4 M508.78,113.81 h2.4" stroke="#a4a4a4" stroke-width="0.6" fill="none"/>
<path d="M515.95,93.12 V113.12" stroke="#c4c4c4" stroke-width="0.55" fill="none"/>
<path d="M514.75,93.12 h2.4 M514.75,113.12 h2.4" stroke="#a4a4a4" stroke-width="0.6" fill="none"/>
<path d="M521.92,92.35 V112.35" stroke="#c4c4c4" stroke-width="0.55" fill="none"/>
<path d="M520.72,92.35 h2.4 M520.72,112.35 h2.4" stroke="#a4a4a4" stroke-width="0.6" fill="none"/>
<path d="M527.90,91.54 V111.54" stroke="#c4c4c4" stroke-width="0.55" fill="none"/>
<path d="M526.70,91.54 h2.4 M526.70,111.54 h2.4" stroke="#a4a4a4" stroke-width="0.6" fill="none"/>
<path d="M533.88,90.60 V110.60" stroke="#c4c4c4" stroke-width="0.55" fill="none"/>
<path d="M532.67,90.60 h2.4 M532.67,110.60 h2.4" stroke="#a4a4a4" stroke-width="0.6" fill="none"/>
<path d="M539.85,89.34 V109.34" stroke="#c4c4c4" stroke-width="0.55" fill="none"/>
<path d="M538.65,89.34 h2.4 M538.65,109.34 h2.4" stroke="#a4a4a4" stroke-width="0.6" fill="none"/>
<path d="M545.83,87.40 V107.40" stroke="#c4c4c4" stroke-width="0.55" fill="none"/>
<path d="M544.62,87.40 h2.4 M544.62,107.40 h2.4" stroke="#a4a4a4" stroke-width="0.6" fill="none"/>
<path d="M551.80,84.82 V104.82" stroke="#c4c4c4" stroke-width="0.55" fill="none"/>
<path d="M550.60,84.82 h2.4 M550.60,104.82 h2.4" stroke="#a4a4a4" stroke-width="0.6" fill="none"/>
<path d="M557.77,81.86 V101.86" stroke="#c4c4c4" stroke-width="0.55" fill="none"/>
<path d="M556.57,81.86 h2.4 M556.57,101.86 h2.4" stroke="#a4a4a4" stroke-width="0.6" fill="none"/>
<path d="M563.75,78.37 V98.37" stroke="#c4c4c4" stroke-width="0.55" fill="none"/>
<path d="M562.55,78.37 h2.4 M562.55,98.37 h2.4" stroke="#a4a4a4" stroke-width="0.6" fill="none"/>
<path d="M569.73,74.20 V94.20" stroke="#c4c4c4" stroke-width="0.55" fill="none"/>
<path d="M568.52,74.20 h2.4 M568.52,94.20 h2.4" stroke="#a4a4a4" stroke-width="0.6" fill="none"/>
<path d="M575.70,69.47 V89.47" stroke="#c4c4c4" stroke-width="0.55" fill="none"/>
<path d="M574.50,69.47 h2.4 M574.50,89.47 h2.4" stroke="#a4a4a4" stroke-width="0.6" fill="none"/>
<path d="M390.48,143.30 V145.50" stroke="#c4c4c4" stroke-width="0.55" fill="none"/>
<path d="M389.28,143.30 h2.4 M389.28,145.50 h2.4" stroke="#a4a4a4" stroke-width="0.6" fill="none"/>
<path d="M396.45,138.12 V140.92" stroke="#c4c4c4" stroke-width="0.55" fill="none"/>
<path d="M395.25,138.12 h2.4 M395.25,140.92 h2.4" stroke="#a4a4a4" stroke-width="0.6" fill="none"/>
<path d="M402.43,133.27 V136.67" stroke="#c4c4c4" stroke-width="0.55" fill="none"/>
<path d="M401.23,133.27 h2.4 M401.23,136.67 h2.4" stroke="#a4a4a4" stroke-width="0.6" fill="none"/>
<path d="M408.40,128.86 V132.86" stroke="#c4c4c4" stroke-width="0.55" fill="none"/>
<path d="M407.20,128.86 h2.4 M407.20,132.86 h2.4" stroke="#a4a4a4" stroke-width="0.6" fill="none"/>
<path d="M414.38,124.49 V129.09" stroke="#c4c4c4" stroke-width="0.55" fill="none"/>
<path d="M413.18,124.49 h2.4 M413.18,129.09 h2.4" stroke="#a4a4a4" stroke-width="0.6" fill="none"/>
<path d="M420.35,119.97 V125.17" stroke="#c4c4c4" stroke-width="0.55" fill="none"/>
<path d="M419.15,119.97 h2.4 M419.15,125.17 h2.4" stroke="#a4a4a4" stroke-width="0.6" fill="none"/>
<path d="M426.32,115.35 V121.15" stroke="#c4c4c4" stroke-width="0.55" fill="none"/>
<path d="M425.12,115.35 h2.4 M425.12,121.15 h2.4" stroke="#a4a4a4" stroke-width="0.6" fill="none"/>
<path d="M432.30,110.79 V117.19" stroke="#c4c4c4" stroke-width="0.55" fill="none"/>
<path d="M431.10,110.79 h2.4 M431.10,117.19 h2.4" stroke="#a4a4a4" stroke-width="0.6" fill="none"/>
<path d="M438.27,104.55 V111.55" stroke="#c4c4c4" stroke-width="0.55" fill="none"/>
<path d="M437.07,104.55 h2.4 M437.07,111.55 h2.4" stroke="#a4a4a4" stroke-width="0.6" fill="none"/>
<path d="M444.25,96.44 V104.04" stroke="#c4c4c4" stroke-width="0.55" fill="none"/>
<path d="M443.05,96.44 h2.4 M443.05,104.04 h2.4" stroke="#a4a4a4" stroke-width="0.6" fill="none"/>
<path d="M450.23,89.18 V97.38" stroke="#c4c4c4" stroke-width="0.55" fill="none"/>
<path d="M449.03,89.18 h2.4 M449.03,97.38 h2.4" stroke="#a4a4a4" stroke-width="0.6" fill="none"/>
<path d="M456.20,83.62 V92.42" stroke="#c4c4c4" stroke-width="0.55" fill="none"/>
<path d="M455.00,83.62 h2.4 M455.00,92.42 h2.4" stroke="#a4a4a4" stroke-width="0.6" fill="none"/>
<path d="M462.18,79.35 V88.75" stroke="#c4c4c4" stroke-width="0.55" fill="none"/>
<path d="M460.98,79.35 h2.4 M460.98,88.75 h2.4" stroke="#a4a4a4" stroke-width="0.6" fill="none"/>
<path d="M468.15,75.07 V85.07" stroke="#c4c4c4" stroke-width="0.55" fill="none"/>
<path d="M466.95,75.07 h2.4 M466.95,85.07 h2.4" stroke="#a4a4a4" stroke-width="0.6" fill="none"/>
<path d="M474.12,72.09 V82.69" stroke="#c4c4c4" stroke-width="0.55" fill="none"/>
<path d="M472.93,72.09 h2.4 M472.93,82.69 h2.4" stroke="#a4a4a4" stroke-width="0.6" fill="none"/>
<path d="M480.10,70.62 V81.62" stroke="#c4c4c4" stroke-width="0.55" fill="none"/>
<path d="M478.90,70.62 h2.4 M478.90,81.62 h2.4" stroke="#a4a4a4" stroke-width="0.6" fill="none"/>
<path d="M486.07,69.52 V80.52" stroke="#c4c4c4" stroke-width="0.55" fill="none"/>
<path d="M484.88,69.52 h2.4 M484.88,80.52 h2.4" stroke="#a4a4a4" stroke-width="0.6" fill="none"/>
<path d="M492.05,68.63 V79.63" stroke="#c4c4c4" stroke-width="0.55" fill="none"/>
<path d="M490.85,68.63 h2.4 M490.85,79.63 h2.4" stroke="#a4a4a4" stroke-width="0.6" fill="none"/>
<path d="M498.02,66.80 V77.80" stroke="#c4c4c4" stroke-width="0.55" fill="none"/>
<path d="M496.82,66.80 h2.4 M496.82,77.80 h2.4" stroke="#a4a4a4" stroke-width="0.6" fill="none"/>
<path d="M504.00,65.76 V76.76" stroke="#c4c4c4" stroke-width="0.55" fill="none"/>
<path d="M502.80,65.76 h2.4 M502.80,76.76 h2.4" stroke="#a4a4a4" stroke-width="0.6" fill="none"/>
<path d="M509.98,65.06 V76.06" stroke="#c4c4c4" stroke-width="0.55" fill="none"/>
<path d="M508.78,65.06 h2.4 M508.78,76.06 h2.4" stroke="#a4a4a4" stroke-width="0.6" fill="none"/>
<path d="M515.95,64.38 V75.38" stroke="#c4c4c4" stroke-width="0.55" fill="none"/>
<path d="M514.75,64.38 h2.4 M514.75,75.38 h2.4" stroke="#a4a4a4" stroke-width="0.6" fill="none"/>
<path d="M521.92,63.47 V74.47" stroke="#c4c4c4" stroke-width="0.55" fill="none"/>
<path d="M520.72,63.47 h2.4 M520.72,74.47 h2.4" stroke="#a4a4a4" stroke-width="0.6" fill="none"/>
<path d="M527.90,62.31 V73.31" stroke="#c4c4c4" stroke-width="0.55" fill="none"/>
<path d="M526.70,62.31 h2.4 M526.70,73.31 h2.4" stroke="#a4a4a4" stroke-width="0.6" fill="none"/>
<path d="M533.88,60.98 V71.98" stroke="#c4c4c4" stroke-width="0.55" fill="none"/>
<path d="M532.67,60.98 h2.4 M532.67,71.98 h2.4" stroke="#a4a4a4" stroke-width="0.6" fill="none"/>
<path d="M539.85,59.54 V70.54" stroke="#c4c4c4" stroke-width="0.55" fill="none"/>
<path d="M538.65,59.54 h2.4 M538.65,70.54 h2.4" stroke="#a4a4a4" stroke-width="0.6" fill="none"/>
<path d="M545.83,58.00 V69.00" stroke="#c4c4c4" stroke-width="0.55" fill="none"/>
<path d="M544.62,58.00 h2.4 M544.62,69.00 h2.4" stroke="#a4a4a4" stroke-width="0.6" fill="none"/>
<path d="M551.80,56.30 V67.30" stroke="#c4c4c4" stroke-width="0.55" fill="none"/>
<path d="M550.60,56.30 h2.4 M550.60,67.30 h2.4" stroke="#a4a4a4" stroke-width="0.6" fill="none"/>
<path d="M557.77,54.41 V65.41" stroke="#c4c4c4" stroke-width="0.55" fill="none"/>
<path d="M556.57,54.41 h2.4 M556.57,65.41 h2.4" stroke="#a4a4a4" stroke-width="0.6" fill="none"/>
<path d="M563.75,52.25 V63.25" stroke="#c4c4c4" stroke-width="0.55" fill="none"/>
<path d="M562.55,52.25 h2.4 M562.55,63.25 h2.4" stroke="#a4a4a4" stroke-width="0.6" fill="none"/>
<path d="M569.73,49.83 V60.83" stroke="#c4c4c4" stroke-width="0.55" fill="none"/>
<path d="M568.52,49.83 h2.4 M568.52,60.83 h2.4" stroke="#a4a4a4" stroke-width="0.6" fill="none"/>
<path d="M575.70,47.17 V58.17" stroke="#c4c4c4" stroke-width="0.55" fill="none"/>
<path d="M574.50,47.17 h2.4 M574.50,58.17 h2.4" stroke="#a4a4a4" stroke-width="0.6" fill="none"/>
<path d="M390.48,148.50 L396.45,148.51 L402.43,148.53 L408.40,148.54 L414.38,148.55 L420.35,148.56 L426.32,148.58 L432.30,148.59 L438.27,148.60 L444.25,148.62 L450.23,148.63 L456.20,148.64 L462.18,148.65 L468.15,148.67 L474.12,148.68 L480.10,148.69 L486.07,148.71 L492.05,148.72 L498.02,148.73 L504.00,148.74 L509.98,148.76 L515.95,148.77 L521.92,148.78 L527.90,148.80 L533.88,148.81 L539.85,148.82 L545.83,148.83 L551.80,148.85 L557.77,148.86 L563.75,148.87 L569.73,148.89 L575.70,148.90" stroke="#d0d845" stroke-width="1.7" fill="none" stroke-linejoin="round"/>
<path d="M390.48,146.50 L396.45,144.64 L402.43,143.08 L408.40,141.93 L414.38,140.84 L420.35,139.11 L426.32,137.14 L432.30,135.57 L438.27,134.14 L444.25,132.52 L450.23,130.44 L456.20,128.06 L462.18,125.73 L468.15,123.80 L474.12,122.15 L480.10,120.72 L486.07,119.66 L492.05,118.91 L498.02,118.27 L504.00,117.54 L509.98,116.73 L515.95,115.88 L521.92,115.02 L527.90,114.17 L533.88,113.28 L539.85,112.33 L545.83,111.34 L551.80,110.28 L557.77,109.04 L563.75,107.53 L569.73,105.77 L575.70,103.78" stroke="#2a8bb0" stroke-width="1.7" fill="none" stroke-linejoin="round"/>
<path d="M390.48,146.00 L396.45,144.10 L402.43,142.24 L408.40,140.53 L414.38,138.72 L420.35,136.23 L426.32,133.17 L432.30,130.06 L438.27,127.32 L444.25,124.91 L450.23,122.79 L456.20,120.81 L462.18,119.11 L468.15,117.80 L474.12,116.79 L480.10,115.98 L486.07,115.35 L492.05,114.90 L498.02,114.50 L504.00,114.03 L509.98,113.48 L515.95,112.90 L521.92,112.32 L527.90,111.82 L533.88,111.25 L539.85,110.42 L545.83,108.84 L551.80,106.56 L557.77,103.87 L563.75,100.57 L569.73,96.44 L575.70,91.68" stroke="#c77be6" stroke-width="1.7" fill="none" stroke-linejoin="round"/>
<path d="M390.48,146.00 L396.45,143.99 L402.43,142.21 L408.40,140.80 L414.38,139.39 L420.35,137.15 L426.32,134.23 L432.30,131.16 L438.27,128.40 L444.25,125.91 L450.23,123.66 L456.20,121.54 L462.18,119.70 L468.15,118.29 L474.12,117.21 L480.10,116.34 L486.07,115.63 L492.05,115.11 L498.02,114.63 L504.00,113.91 L509.98,112.73 L515.95,111.39 L521.92,110.29 L527.90,109.50 L533.88,108.70 L539.85,107.56 L545.83,105.75 L551.80,103.25 L557.77,100.14 L563.75,95.87 L569.73,90.19 L575.70,83.46" stroke="#e8a8a8" stroke-width="1.7" fill="none" stroke-linejoin="round"/>
<path d="M390.48,145.50 L396.45,143.21 L402.43,140.82 L408.40,138.42 L414.38,135.81 L420.35,132.21 L426.32,128.44 L432.30,125.70 L438.27,123.73 L444.25,122.23 L450.23,120.33 L456.20,118.27 L462.18,116.44 L468.15,115.25 L474.12,114.57 L480.10,114.04 L486.07,113.43 L492.05,112.76 L498.02,112.03 L504.00,111.21 L509.98,110.21 L515.95,109.13 L521.92,108.07 L527.90,107.13 L533.88,106.10 L539.85,104.72 L545.83,102.64 L551.80,99.85 L557.77,96.43 L563.75,91.84 L569.73,85.85 L575.70,78.80" stroke="#8f8ee6" stroke-width="1.7" fill="none" stroke-linejoin="round"/>
<path d="M390.48,145.20 L396.45,143.05 L402.43,140.63 L408.40,138.05 L414.38,134.98 L420.35,130.26 L426.32,124.86 L432.30,120.49 L438.27,117.50 L444.25,115.52 L450.23,113.48 L456.20,111.57 L462.18,110.03 L468.15,108.81 L474.12,107.77 L480.10,106.91 L486.07,106.24 L492.05,105.67 L498.02,105.09 L504.00,104.46 L509.98,103.81 L515.95,103.12 L521.92,102.35 L527.90,101.54 L533.88,100.60 L539.85,99.34 L545.83,97.40 L551.80,94.82 L557.77,91.86 L563.75,88.37 L569.73,84.20 L575.70,79.47" stroke="#2fae3e" stroke-width="1.7" fill="none" stroke-linejoin="round"/>
<path d="M390.48,144.40 L396.45,139.52 L402.43,134.97 L408.40,130.86 L414.38,126.79 L420.35,122.57 L426.32,118.25 L432.30,113.99 L438.27,108.05 L444.25,100.24 L450.23,93.28 L456.20,88.02 L462.18,84.05 L468.15,80.07 L474.12,77.39 L480.10,76.12 L486.07,75.02 L492.05,74.13 L498.02,72.30 L504.00,71.26 L509.98,70.56 L515.95,69.88 L521.92,68.97 L527.90,67.81 L533.88,66.48 L539.85,65.04 L545.83,63.50 L551.80,61.80 L557.77,59.91 L563.75,57.75 L569.73,55.33 L575.70,52.67" stroke="#de4450" stroke-width="1.7" fill="none" stroke-linejoin="round"/>
<line x1="579" y1="46.20" x2="591.6" y2="46.20" stroke="#de4450" stroke-width="1.4" opacity="0.85"/>
<text x="593.5" y="49.80" font-size="10" font-family="Liberation Sans, sans-serif" fill="#1a1a1a">Nov only</text>
<line x1="579" y1="62.80" x2="591.6" y2="62.80" stroke="#8f8ee6" stroke-width="1.4" opacity="0.85"/>
<text x="593.5" y="64.40" font-size="10" font-family="Liberation Sans, sans-serif" fill="#1a1a1a">Nov+CASP(0.1 mg/ml)</text>
<line x1="579" y1="79.40" x2="591.6" y2="79.40" stroke="#2fae3e" stroke-width="1.4" opacity="0.85"/>
<text x="593.5" y="81.60" font-size="10" font-family="Liberation Sans, sans-serif" fill="#1a1a1a">Nov+CASP(0.2 mg/ml)</text>
<line x1="579" y1="95.70" x2="591.6" y2="95.70" stroke="#e8a8a8" stroke-width="1.4" opacity="0.85"/>
<text x="593.5" y="97.70" font-size="10" font-family="Liberation Sans, sans-serif" fill="#1a1a1a">Nov+CASP(0.5 mg/ml)</text>
<line x1="579" y1="112.50" x2="591.6" y2="112.50" stroke="#c77be6" stroke-width="1.4" opacity="0.85"/>
<text x="593.5" y="115.20" font-size="10" font-family="Liberation Sans, sans-serif" fill="#1a1a1a">Nov+CASP(1.0 mg/ml)</text>
<line x1="579" y1="129.20" x2="591.6" y2="129.20" stroke="#2a8bb0" stroke-width="1.4" opacity="0.85"/>
<text x="593.5" y="131.80" font-size="10" font-family="Liberation Sans, sans-serif" fill="#1a1a1a">Nov+CASP(1.5 mg/ml)</text>
<line x1="579" y1="145.40" x2="591.6" y2="145.40" stroke="#d0d845" stroke-width="1.4" opacity="0.85"/>
<text x="593.5" y="148.60" font-size="10" font-family="Liberation Sans, sans-serif" fill="#1a1a1a">Nov+CASP(2.0 mg/ml)</text>
<text x="0.4" y="218" font-size="24" font-weight="bold" font-family="Liberation Sans, sans-serif" fill="#111">C</text>
<line x1="51.5" y1="213.5" x2="51.5" y2="342.2" stroke="#111" stroke-width="1.8"/>
<line x1="50.6" y1="341.3" x2="242.8" y2="341.3" stroke="#111" stroke-width="1.8"/>
<line x1="46" y1="341.30" x2="51.5" y2="341.30" stroke="#111" stroke-width="1.8"/>
<text x="44" y="344.80" text-anchor="end" font-size="9.2" font-weight="bold" font-family="Liberation Sans, sans-serif" fill="#111">0.1</text>
<line x1="46" y1="309.50" x2="51.5" y2="309.50" stroke="#111" stroke-width="1.8"/>
<text x="44" y="313.00" text-anchor="end" font-size="9.2" font-weight="bold" font-family="Liberation Sans, sans-serif" fill="#111">0.3</text>
<line x1="46" y1="277.70" x2="51.5" y2="277.70" stroke="#111" stroke-width="1.8"/>
<text x="44" y="281.20" text-anchor="end" font-size="9.2" font-weight="bold" font-family="Liberation Sans, sans-serif" fill="#111">0.5</text>
<line x1="46" y1="245.90" x2="51.5" y2="245.90" stroke="#111" stroke-width="1.8"/>
<text x="44" y="249.40" text-anchor="end" font-size="9.2" font-weight="bold" font-family="Liberation Sans, sans-serif" fill="#111">0.7</text>
<line x1="46" y1="214.10" x2="51.5" y2="214.10" stroke="#111" stroke-width="1.8"/>
<text x="44" y="217.60" text-anchor="end" font-size="9.2" font-weight="bold" font-family="Liberation Sans, sans-serif" fill="#111">0.9</text>
<line x1="51.50" y1="341.3" x2="51.50" y2="346.1" stroke="#111" stroke-width="1.6"/>
<text x="51.50" y="357.6" text-anchor="middle" font-size="9.6" font-weight="bold" font-family="Liberation Sans, sans-serif" fill="#111">0</text>
<line x1="111.25" y1="341.3" x2="111.25" y2="346.1" stroke="#111" stroke-width="1.6"/>
<text x="111.25" y="357.6" text-anchor="middle" font-size="9.6" font-weight="bold" font-family="Liberation Sans, sans-serif" fill="#111">5</text>
<line x1="171.00" y1="341.3" x2="171.00" y2="346.1" stroke="#111" stroke-width="1.6"/>
<text x="171.00" y="357.6" text-anchor="middle" font-size="9.6" font-weight="bold" font-family="Liberation Sans, sans-serif" fill="#111">10</text>
<line x1="230.75" y1="341.3" x2="230.75" y2="346.1" stroke="#111" stroke-width="1.6"/>
<text x="230.75" y="357.6" text-anchor="middle" font-size="9.6" font-weight="bold" font-family="Liberation Sans, sans-serif" fill="#111">15</text>
<line x1="81.38" y1="341.3" x2="81.38" y2="344.5" stroke="#111" stroke-width="1.6"/>
<line x1="141.12" y1="341.3" x2="141.12" y2="344.5" stroke="#111" stroke-width="1.6"/>
<line x1="200.88" y1="341.3" x2="200.88" y2="344.5" stroke="#111" stroke-width="1.6"/>
<text transform="translate(14.6,329.2) rotate(-90)" font-size="13.6" font-weight="bold" font-family="Liberation Sans, sans-serif" fill="#111" textLength="94" lengthAdjust="spacingAndGlyphs">Growth density</text>
<text transform="translate(29,313.6) rotate(-90)" font-weight="bold" font-family="Liberation Sans, sans-serif" fill="#111" textLength="60" lengthAdjust="spacingAndGlyphs"><tspan font-size="12.2">(OD</tspan><tspan font-size="10.4">600nm</tspan><tspan font-size="12.2">)</tspan></text>
<text x="116.6" y="369.6" font-size="12.9" font-weight="bold" font-family="Liberation Sans, sans-serif" fill="#111">Time (h)</text>
<path d="M87.35,328.75 V333.25" stroke="#c4c4c4" stroke-width="0.55" fill="none"/>
<path d="M86.15,328.75 h2.4 M86.15,333.25 h2.4" stroke="#a4a4a4" stroke-width="0.6" fill="none"/>
<path d="M93.32,317.50 V326.50" stroke="#c4c4c4" stroke-width="0.55" fill="none"/>
<path d="M92.12,317.50 h2.4 M92.12,326.50 h2.4" stroke="#a4a4a4" stroke-width="0.6" fill="none"/>
<path d="M99.30,300.25 V313.75" stroke="#c4c4c4" stroke-width="0.55" fill="none"/>
<path d="M98.10,300.25 h2.4 M98.10,313.75 h2.4" stroke="#a4a4a4" stroke-width="0.6" fill="none"/>
<path d="M105.28,287.00 V305.00" stroke="#c4c4c4" stroke-width="0.55" fill="none"/>
<path d="M104.08,287.00 h2.4 M104.08,305.00 h2.4" stroke="#a4a4a4" stroke-width="0.6" fill="none"/>
<path d="M111.25,278.75 V301.25" stroke="#c4c4c4" stroke-width="0.55" fill="none"/>
<path d="M110.05,278.75 h2.4 M110.05,301.25 h2.4" stroke="#a4a4a4" stroke-width="0.6" fill="none"/>
<path d="M117.22,275.00 V299.00" stroke="#c4c4c4" stroke-width="0.55" fill="none"/>
<path d="M116.02,275.00 h2.4 M116.02,299.00 h2.4" stroke="#a4a4a4" stroke-width="0.6" fill="none"/>
<path d="M123.20,271.00 V295.00" stroke="#c4c4c4" stroke-width="0.55" fill="none"/>
<path d="M122.00,271.00 h2.4 M122.00,295.00 h2.4" stroke="#a4a4a4" stroke-width="0.6" fill="none"/>
<path d="M129.18,268.50 V292.50" stroke="#c4c4c4" stroke-width="0.55" fill="none"/>
<path d="M127.98,268.50 h2.4 M127.98,292.50 h2.4" stroke="#a4a4a4" stroke-width="0.6" fill="none"/>
<path d="M135.15,265.60 V289.60" stroke="#c4c4c4" stroke-width="0.55" fill="none"/>
<path d="M133.95,265.60 h2.4 M133.95,289.60 h2.4" stroke="#a4a4a4" stroke-width="0.6" fill="none"/>
<path d="M141.12,264.50 V288.50" stroke="#c4c4c4" stroke-width="0.55" fill="none"/>
<path d="M139.93,264.50 h2.4 M139.93,288.50 h2.4" stroke="#a4a4a4" stroke-width="0.6" fill="none"/>
<path d="M147.10,263.80 V287.80" stroke="#c4c4c4" stroke-width="0.55" fill="none"/>
<path d="M145.90,263.80 h2.4 M145.90,287.80 h2.4" stroke="#a4a4a4" stroke-width="0.6" fill="none"/>
<path d="M153.07,263.50 V287.50" stroke="#c4c4c4" stroke-width="0.55" fill="none"/>
<path d="M151.88,263.50 h2.4 M151.88,287.50 h2.4" stroke="#a4a4a4" stroke-width="0.6" fill="none"/>
<path d="M159.05,263.30 V287.30" stroke="#c4c4c4" stroke-width="0.55" fill="none"/>
<path d="M157.85,263.30 h2.4 M157.85,287.30 h2.4" stroke="#a4a4a4" stroke-width="0.6" fill="none"/>
<path d="M165.02,263.10 V287.10" stroke="#c4c4c4" stroke-width="0.55" fill="none"/>
<path d="M163.82,263.10 h2.4 M163.82,287.10 h2.4" stroke="#a4a4a4" stroke-width="0.6" fill="none"/>
<path d="M171.00,262.90 V286.90" stroke="#c4c4c4" stroke-width="0.55" fill="none"/>
<path d="M169.80,262.90 h2.4 M169.80,286.90 h2.4" stroke="#a4a4a4" stroke-width="0.6" fill="none"/>
<path d="M176.97,263.22 V286.22" stroke="#c4c4c4" stroke-width="0.55" fill="none"/>
<path d="M175.78,263.22 h2.4 M175.78,286.22 h2.4" stroke="#a4a4a4" stroke-width="0.6" fill="none"/>
<path d="M182.95,263.56 V285.56" stroke="#c4c4c4" stroke-width="0.55" fill="none"/>
<path d="M181.75,263.56 h2.4 M181.75,285.56 h2.4" stroke="#a4a4a4" stroke-width="0.6" fill="none"/>
<path d="M188.92,263.91 V284.91" stroke="#c4c4c4" stroke-width="0.55" fill="none"/>
<path d="M187.72,263.91 h2.4 M187.72,284.91 h2.4" stroke="#a4a4a4" stroke-width="0.6" fill="none"/>
<path d="M194.90,264.26 V284.26" stroke="#c4c4c4" stroke-width="0.55" fill="none"/>
<path d="M193.70,264.26 h2.4 M193.70,284.26 h2.4" stroke="#a4a4a4" stroke-width="0.6" fill="none"/>
<path d="M200.88,264.59 V283.59" stroke="#c4c4c4" stroke-width="0.55" fill="none"/>
<path d="M199.68,264.59 h2.4 M199.68,283.59 h2.4" stroke="#a4a4a4" stroke-width="0.6" fill="none"/>
<path d="M206.85,264.91 V282.91" stroke="#c4c4c4" stroke-width="0.55" fill="none"/>
<path d="M205.65,264.91 h2.4 M205.65,282.91 h2.4" stroke="#a4a4a4" stroke-width="0.6" fill="none"/>
<path d="M212.82,265.20 V282.20" stroke="#c4c4c4" stroke-width="0.55" fill="none"/>
<path d="M211.62,265.20 h2.4 M211.62,282.20 h2.4" stroke="#a4a4a4" stroke-width="0.6" fill="none"/>
<path d="M218.80,265.45 V281.45" stroke="#c4c4c4" stroke-width="0.55" fill="none"/>
<path d="M217.60,265.45 h2.4 M217.60,281.45 h2.4" stroke="#a4a4a4" stroke-width="0.6" fill="none"/>
<path d="M224.77,265.68 V280.68" stroke="#c4c4c4" stroke-width="0.55" fill="none"/>
<path d="M223.57,265.68 h2.4 M223.57,280.68 h2.4" stroke="#a4a4a4" stroke-width="0.6" fill="none"/>
<path d="M230.75,265.89 V279.89" stroke="#c4c4c4" stroke-width="0.55" fill="none"/>
<path d="M229.55,265.89 h2.4 M229.55,279.89 h2.4" stroke="#a4a4a4" stroke-width="0.6" fill="none"/>
<path d="M236.72,266.08 V279.08" stroke="#c4c4c4" stroke-width="0.55" fill="none"/>
<path d="M235.53,266.08 h2.4 M235.53,279.08 h2.4" stroke="#a4a4a4" stroke-width="0.6" fill="none"/>
<path d="M242.70,266.25 V278.25" stroke="#c4c4c4" stroke-width="0.55" fill="none"/>
<path d="M241.50,266.25 h2.4 M241.50,278.25 h2.4" stroke="#a4a4a4" stroke-width="0.6" fill="none"/>
<path d="M87.35,331.50 V334.50" stroke="#c4c4c4" stroke-width="0.55" fill="none"/>
<path d="M86.15,331.50 h2.4 M86.15,334.50 h2.4" stroke="#a4a4a4" stroke-width="0.6" fill="none"/>
<path d="M93.32,323.00 V329.00" stroke="#c4c4c4" stroke-width="0.55" fill="none"/>
<path d="M92.12,323.00 h2.4 M92.12,329.00 h2.4" stroke="#a4a4a4" stroke-width="0.6" fill="none"/>
<path d="M99.30,309.50 V318.50" stroke="#c4c4c4" stroke-width="0.55" fill="none"/>
<path d="M98.10,309.50 h2.4 M98.10,318.50 h2.4" stroke="#a4a4a4" stroke-width="0.6" fill="none"/>
<path d="M105.28,297.00 V309.00" stroke="#c4c4c4" stroke-width="0.55" fill="none"/>
<path d="M104.08,297.00 h2.4 M104.08,309.00 h2.4" stroke="#a4a4a4" stroke-width="0.6" fill="none"/>
<path d="M111.25,286.40 V300.40" stroke="#c4c4c4" stroke-width="0.55" fill="none"/>
<path d="M110.05,286.40 h2.4 M110.05,300.40 h2.4" stroke="#a4a4a4" stroke-width="0.6" fill="none"/>
<path d="M117.22,274.30 V288.30" stroke="#c4c4c4" stroke-width="0.55" fill="none"/>
<path d="M116.02,274.30 h2.4 M116.02,288.30 h2.4" stroke="#a4a4a4" stroke-width="0.6" fill="none"/>
<path d="M123.20,267.00 V281.00" stroke="#c4c4c4" stroke-width="0.55" fill="none"/>
<path d="M122.00,267.00 h2.4 M122.00,281.00 h2.4" stroke="#a4a4a4" stroke-width="0.6" fill="none"/>
<path d="M129.18,266.00 V280.00" stroke="#c4c4c4" stroke-width="0.55" fill="none"/>
<path d="M127.98,266.00 h2.4 M127.98,280.00 h2.4" stroke="#a4a4a4" stroke-width="0.6" fill="none"/>
<path d="M135.15,260.00 V274.00" stroke="#c4c4c4" stroke-width="0.55" fill="none"/>
<path d="M133.95,260.00 h2.4 M133.95,274.00 h2.4" stroke="#a4a4a4" stroke-width="0.6" fill="none"/>
<path d="M141.12,259.70 V273.70" stroke="#c4c4c4" stroke-width="0.55" fill="none"/>
<path d="M139.93,259.70 h2.4 M139.93,273.70 h2.4" stroke="#a4a4a4" stroke-width="0.6" fill="none"/>
<path d="M147.10,259.70 V273.70" stroke="#c4c4c4" stroke-width="0.55" fill="none"/>
<path d="M145.90,259.70 h2.4 M145.90,273.70 h2.4" stroke="#a4a4a4" stroke-width="0.6" fill="none"/>
<path d="M153.07,259.50 V273.50" stroke="#c4c4c4" stroke-width="0.55" fill="none"/>
<path d="M151.88,259.50 h2.4 M151.88,273.50 h2.4" stroke="#a4a4a4" stroke-width="0.6" fill="none"/>
<path d="M159.05,259.40 V273.40" stroke="#c4c4c4" stroke-width="0.55" fill="none"/>
<path d="M157.85,259.40 h2.4 M157.85,273.40 h2.4" stroke="#a4a4a4" stroke-width="0.6" fill="none"/>
<path d="M165.02,259.30 V273.30" stroke="#c4c4c4" stroke-width="0.55" fill="none"/>
<path d="M163.82,259.30 h2.4 M163.82,273.30 h2.4" stroke="#a4a4a4" stroke-width="0.6" fill="none"/>
<path d="M171.00,259.10 V273.10" stroke="#c4c4c4" stroke-width="0.55" fill="none"/>
<path d="M169.80,259.10 h2.4 M169.80,273.10 h2.4" stroke="#a4a4a4" stroke-width="0.6" fill="none"/>
<path d="M176.97,258.83 V272.83" stroke="#c4c4c4" stroke-width="0.55" fill="none"/>
<path d="M175.78,258.83 h2.4 M175.78,272.83 h2.4" stroke="#a4a4a4" stroke-width="0.6" fill="none"/>
<path d="M182.95,258.50 V272.50" stroke="#c4c4c4" stroke-width="0.55" fill="none"/>
<path d="M181.75,258.50 h2.4 M181.75,272.50 h2.4" stroke="#a4a4a4" stroke-width="0.6" fill="none"/>
<path d="M188.92,258.12 V272.12" stroke="#c4c4c4" stroke-width="0.55" fill="none"/>
<path d="M187.72,258.12 h2.4 M187.72,272.12 h2.4" stroke="#a4a4a4" stroke-width="0.6" fill="none"/>
<path d="M194.90,257.65 V271.65" stroke="#c4c4c4" stroke-width="0.55" fill="none"/>
<path d="M193.70,257.65 h2.4 M193.70,271.65 h2.4" stroke="#a4a4a4" stroke-width="0.6" fill="none"/>
<path d="M200.88,257.08 V271.08" stroke="#c4c4c4" stroke-width="0.55" fill="none"/>
<path d="M199.68,257.08 h2.4 M199.68,271.08 h2.4" stroke="#a4a4a4" stroke-width="0.6" fill="none"/>
<path d="M206.85,256.41 V270.41" stroke="#c4c4c4" stroke-width="0.55" fill="none"/>
<path d="M205.65,256.41 h2.4 M205.65,270.41 h2.4" stroke="#a4a4a4" stroke-width="0.6" fill="none"/>
<path d="M212.82,255.41 V269.41" stroke="#c4c4c4" stroke-width="0.55" fill="none"/>
<path d="M211.62,255.41 h2.4 M211.62,269.41 h2.4" stroke="#a4a4a4" stroke-width="0.6" fill="none"/>
<path d="M218.80,253.56 V267.56" stroke="#c4c4c4" stroke-width="0.55" fill="none"/>
<path d="M217.60,253.56 h2.4 M217.60,267.56 h2.4" stroke="#a4a4a4" stroke-width="0.6" fill="none"/>
<path d="M224.77,252.35 V266.35" stroke="#c4c4c4" stroke-width="0.55" fill="none"/>
<path d="M223.57,252.35 h2.4 M223.57,266.35 h2.4" stroke="#a4a4a4" stroke-width="0.6" fill="none"/>
<path d="M230.75,251.46 V265.46" stroke="#c4c4c4" stroke-width="0.55" fill="none"/>
<path d="M229.55,251.46 h2.4 M229.55,265.46 h2.4" stroke="#a4a4a4" stroke-width="0.6" fill="none"/>
<path d="M236.72,250.77 V264.77" stroke="#c4c4c4" stroke-width="0.55" fill="none"/>
<path d="M235.53,250.77 h2.4 M235.53,264.77 h2.4" stroke="#a4a4a4" stroke-width="0.6" fill="none"/>
<path d="M242.70,250.42 V264.42" stroke="#c4c4c4" stroke-width="0.55" fill="none"/>
<path d="M241.50,250.42 h2.4 M241.50,264.42 h2.4" stroke="#a4a4a4" stroke-width="0.6" fill="none"/>
<path d="M87.35,327.50 V330.50" stroke="#c4c4c4" stroke-width="0.55" fill="none"/>
<path d="M86.15,327.50 h2.4 M86.15,330.50 h2.4" stroke="#a4a4a4" stroke-width="0.6" fill="none"/>
<path d="M93.32,314.00 V320.00" stroke="#c4c4c4" stroke-width="0.55" fill="none"/>
<path d="M92.12,314.00 h2.4 M92.12,320.00 h2.4" stroke="#a4a4a4" stroke-width="0.6" fill="none"/>
<path d="M99.30,295.50 V304.50" stroke="#c4c4c4" stroke-width="0.55" fill="none"/>
<path d="M98.10,295.50 h2.4 M98.10,304.50 h2.4" stroke="#a4a4a4" stroke-width="0.6" fill="none"/>
<path d="M105.28,281.50 V293.50" stroke="#c4c4c4" stroke-width="0.55" fill="none"/>
<path d="M104.08,281.50 h2.4 M104.08,293.50 h2.4" stroke="#a4a4a4" stroke-width="0.6" fill="none"/>
<path d="M111.25,272.20 V287.20" stroke="#c4c4c4" stroke-width="0.55" fill="none"/>
<path d="M110.05,272.20 h2.4 M110.05,287.20 h2.4" stroke="#a4a4a4" stroke-width="0.6" fill="none"/>
<path d="M117.22,261.00 V277.00" stroke="#c4c4c4" stroke-width="0.55" fill="none"/>
<path d="M116.02,261.00 h2.4 M116.02,277.00 h2.4" stroke="#a4a4a4" stroke-width="0.6" fill="none"/>
<path d="M123.20,255.00 V271.00" stroke="#c4c4c4" stroke-width="0.55" fill="none"/>
<path d="M122.00,255.00 h2.4 M122.00,271.00 h2.4" stroke="#a4a4a4" stroke-width="0.6" fill="none"/>
<path d="M129.18,254.00 V270.00" stroke="#c4c4c4" stroke-width="0.55" fill="none"/>
<path d="M127.98,254.00 h2.4 M127.98,270.00 h2.4" stroke="#a4a4a4" stroke-width="0.6" fill="none"/>
<path d="M135.15,252.70 V268.70" stroke="#c4c4c4" stroke-width="0.55" fill="none"/>
<path d="M133.95,252.70 h2.4 M133.95,268.70 h2.4" stroke="#a4a4a4" stroke-width="0.6" fill="none"/>
<path d="M141.12,252.70 V268.70" stroke="#c4c4c4" stroke-width="0.55" fill="none"/>
<path d="M139.93,252.70 h2.4 M139.93,268.70 h2.4" stroke="#a4a4a4" stroke-width="0.6" fill="none"/>
<path d="M147.10,252.70 V268.70" stroke="#c4c4c4" stroke-width="0.55" fill="none"/>
<path d="M145.90,252.70 h2.4 M145.90,268.70 h2.4" stroke="#a4a4a4" stroke-width="0.6" fill="none"/>
<path d="M153.07,252.70 V268.70" stroke="#c4c4c4" stroke-width="0.55" fill="none"/>
<path d="M151.88,252.70 h2.4 M151.88,268.70 h2.4" stroke="#a4a4a4" stroke-width="0.6" fill="none"/>
<path d="M159.05,255.00 V271.00" stroke="#c4c4c4" stroke-width="0.55" fill="none"/>
<path d="M157.85,255.00 h2.4 M157.85,271.00 h2.4" stroke="#a4a4a4" stroke-width="0.6" fill="none"/>
<path d="M165.02,255.00 V271.00" stroke="#c4c4c4" stroke-width="0.55" fill="none"/>
<path d="M163.82,255.00 h2.4 M163.82,271.00 h2.4" stroke="#a4a4a4" stroke-width="0.6" fill="none"/>
<path d="M171.00,255.00 V271.00" stroke="#c4c4c4" stroke-width="0.55" fill="none"/>
<path d="M169.80,255.00 h2.4 M169.80,271.00 h2.4" stroke="#a4a4a4" stroke-width="0.6" fill="none"/>
<path d="M176.97,254.94 V270.94" stroke="#c4c4c4" stroke-width="0.55" fill="none"/>
<path d="M175.78,254.94 h2.4 M175.78,270.94 h2.4" stroke="#a4a4a4" stroke-width="0.6" fill="none"/>
<path d="M182.95,254.78 V270.78" stroke="#c4c4c4" stroke-width="0.55" fill="none"/>
<path d="M181.75,254.78 h2.4 M181.75,270.78 h2.4" stroke="#a4a4a4" stroke-width="0.6" fill="none"/>
<path d="M188.92,254.53 V270.53" stroke="#c4c4c4" stroke-width="0.55" fill="none"/>
<path d="M187.72,254.53 h2.4 M187.72,270.53 h2.4" stroke="#a4a4a4" stroke-width="0.6" fill="none"/>
<path d="M194.90,254.23 V270.23" stroke="#c4c4c4" stroke-width="0.55" fill="none"/>
<path d="M193.70,254.23 h2.4 M193.70,270.23 h2.4" stroke="#a4a4a4" stroke-width="0.6" fill="none"/>
<path d="M200.88,253.91 V269.91" stroke="#c4c4c4" stroke-width="0.55" fill="none"/>
<path d="M199.68,253.91 h2.4 M199.68,269.91 h2.4" stroke="#a4a4a4" stroke-width="0.6" fill="none"/>
<path d="M206.85,253.57 V269.57" stroke="#c4c4c4" stroke-width="0.55" fill="none"/>
<path d="M205.65,253.57 h2.4 M205.65,269.57 h2.4" stroke="#a4a4a4" stroke-width="0.6" fill="none"/>
<path d="M212.82,253.23 V269.23" stroke="#c4c4c4" stroke-width="0.55" fill="none"/>
<path d="M211.62,253.23 h2.4 M211.62,269.23 h2.4" stroke="#a4a4a4" stroke-width="0.6" fill="none"/>
<path d="M218.80,252.79 V268.79" stroke="#c4c4c4" stroke-width="0.55" fill="none"/>
<path d="M217.60,252.79 h2.4 M217.60,268.79 h2.4" stroke="#a4a4a4" stroke-width="0.6" fill="none"/>
<path d="M224.77,252.47 V268.47" stroke="#c4c4c4" stroke-width="0.55" fill="none"/>
<path d="M223.57,252.47 h2.4 M223.57,268.47 h2.4" stroke="#a4a4a4" stroke-width="0.6" fill="none"/>
<path d="M230.75,252.20 V268.20" stroke="#c4c4c4" stroke-width="0.55" fill="none"/>
<path d="M229.55,252.20 h2.4 M229.55,268.20 h2.4" stroke="#a4a4a4" stroke-width="0.6" fill="none"/>
<path d="M236.72,251.98 V267.98" stroke="#c4c4c4" stroke-width="0.55" fill="none"/>
<path d="M235.53,251.98 h2.4 M235.53,267.98 h2.4" stroke="#a4a4a4" stroke-width="0.6" fill="none"/>
<path d="M242.70,251.82 V267.82" stroke="#c4c4c4" stroke-width="0.55" fill="none"/>
<path d="M241.50,251.82 h2.4 M241.50,267.82 h2.4" stroke="#a4a4a4" stroke-width="0.6" fill="none"/>
<path d="M87.35,328.25 V332.75" stroke="#c4c4c4" stroke-width="0.55" fill="none"/>
<path d="M86.15,328.25 h2.4 M86.15,332.75 h2.4" stroke="#a4a4a4" stroke-width="0.6" fill="none"/>
<path d="M93.32,316.00 V325.00" stroke="#c4c4c4" stroke-width="0.55" fill="none"/>
<path d="M92.12,316.00 h2.4 M92.12,325.00 h2.4" stroke="#a4a4a4" stroke-width="0.6" fill="none"/>
<path d="M99.30,297.25 V310.75" stroke="#c4c4c4" stroke-width="0.55" fill="none"/>
<path d="M98.10,297.25 h2.4 M98.10,310.75 h2.4" stroke="#a4a4a4" stroke-width="0.6" fill="none"/>
<path d="M105.28,282.00 V300.00" stroke="#c4c4c4" stroke-width="0.55" fill="none"/>
<path d="M104.08,282.00 h2.4 M104.08,300.00 h2.4" stroke="#a4a4a4" stroke-width="0.6" fill="none"/>
<path d="M111.25,272.75 V295.25" stroke="#c4c4c4" stroke-width="0.55" fill="none"/>
<path d="M110.05,272.75 h2.4 M110.05,295.25 h2.4" stroke="#a4a4a4" stroke-width="0.6" fill="none"/>
<path d="M117.22,258.00 V282.00" stroke="#c4c4c4" stroke-width="0.55" fill="none"/>
<path d="M116.02,258.00 h2.4 M116.02,282.00 h2.4" stroke="#a4a4a4" stroke-width="0.6" fill="none"/>
<path d="M123.20,250.00 V274.00" stroke="#c4c4c4" stroke-width="0.55" fill="none"/>
<path d="M122.00,250.00 h2.4 M122.00,274.00 h2.4" stroke="#a4a4a4" stroke-width="0.6" fill="none"/>
<path d="M129.18,251.00 V275.00" stroke="#c4c4c4" stroke-width="0.55" fill="none"/>
<path d="M127.98,251.00 h2.4 M127.98,275.00 h2.4" stroke="#a4a4a4" stroke-width="0.6" fill="none"/>
<path d="M135.15,246.50 V270.50" stroke="#c4c4c4" stroke-width="0.55" fill="none"/>
<path d="M133.95,246.50 h2.4 M133.95,270.50 h2.4" stroke="#a4a4a4" stroke-width="0.6" fill="none"/>
<path d="M141.12,246.50 V270.50" stroke="#c4c4c4" stroke-width="0.55" fill="none"/>
<path d="M139.93,246.50 h2.4 M139.93,270.50 h2.4" stroke="#a4a4a4" stroke-width="0.6" fill="none"/>
<path d="M147.10,246.50 V270.50" stroke="#c4c4c4" stroke-width="0.55" fill="none"/>
<path d="M145.90,246.50 h2.4 M145.90,270.50 h2.4" stroke="#a4a4a4" stroke-width="0.6" fill="none"/>
<path d="M153.07,246.50 V270.50" stroke="#c4c4c4" stroke-width="0.55" fill="none"/>
<path d="M151.88,246.50 h2.4 M151.88,270.50 h2.4" stroke="#a4a4a4" stroke-width="0.6" fill="none"/>
<path d="M159.05,246.40 V270.40" stroke="#c4c4c4" stroke-width="0.55" fill="none"/>
<path d="M157.85,246.40 h2.4 M157.85,270.40 h2.4" stroke="#a4a4a4" stroke-width="0.6" fill="none"/>
<path d="M165.02,246.30 V270.30" stroke="#c4c4c4" stroke-width="0.55" fill="none"/>
<path d="M163.82,246.30 h2.4 M163.82,270.30 h2.4" stroke="#a4a4a4" stroke-width="0.6" fill="none"/>
<path d="M171.00,246.30 V270.30" stroke="#c4c4c4" stroke-width="0.55" fill="none"/>
<path d="M169.80,246.30 h2.4 M169.80,270.30 h2.4" stroke="#a4a4a4" stroke-width="0.6" fill="none"/>
<path d="M176.97,246.28 V270.28" stroke="#c4c4c4" stroke-width="0.55" fill="none"/>
<path d="M175.78,246.28 h2.4 M175.78,270.28 h2.4" stroke="#a4a4a4" stroke-width="0.6" fill="none"/>
<path d="M182.95,246.21 V270.21" stroke="#c4c4c4" stroke-width="0.55" fill="none"/>
<path d="M181.75,246.21 h2.4 M181.75,270.21 h2.4" stroke="#a4a4a4" stroke-width="0.6" fill="none"/>
<path d="M188.92,247.10 V269.10" stroke="#c4c4c4" stroke-width="0.55" fill="none"/>
<path d="M187.72,247.10 h2.4 M187.72,269.10 h2.4" stroke="#a4a4a4" stroke-width="0.6" fill="none"/>
<path d="M194.90,247.96 V267.96" stroke="#c4c4c4" stroke-width="0.55" fill="none"/>
<path d="M193.70,247.96 h2.4 M193.70,267.96 h2.4" stroke="#a4a4a4" stroke-width="0.6" fill="none"/>
<path d="M200.88,248.77 V266.77" stroke="#c4c4c4" stroke-width="0.55" fill="none"/>
<path d="M199.68,248.77 h2.4 M199.68,266.77 h2.4" stroke="#a4a4a4" stroke-width="0.6" fill="none"/>
<path d="M206.85,249.54 V265.54" stroke="#c4c4c4" stroke-width="0.55" fill="none"/>
<path d="M205.65,249.54 h2.4 M205.65,265.54 h2.4" stroke="#a4a4a4" stroke-width="0.6" fill="none"/>
<path d="M212.82,248.18 V266.18" stroke="#c4c4c4" stroke-width="0.55" fill="none"/>
<path d="M211.62,248.18 h2.4 M211.62,266.18 h2.4" stroke="#a4a4a4" stroke-width="0.6" fill="none"/>
<path d="M218.80,246.33 V266.33" stroke="#c4c4c4" stroke-width="0.55" fill="none"/>
<path d="M217.60,246.33 h2.4 M217.60,266.33 h2.4" stroke="#a4a4a4" stroke-width="0.6" fill="none"/>
<path d="M224.77,244.32 V266.32" stroke="#c4c4c4" stroke-width="0.55" fill="none"/>
<path d="M223.57,244.32 h2.4 M223.57,266.32 h2.4" stroke="#a4a4a4" stroke-width="0.6" fill="none"/>
<path d="M230.75,242.14 V266.14" stroke="#c4c4c4" stroke-width="0.55" fill="none"/>
<path d="M229.55,242.14 h2.4 M229.55,266.14 h2.4" stroke="#a4a4a4" stroke-width="0.6" fill="none"/>
<path d="M236.72,240.75 V264.75" stroke="#c4c4c4" stroke-width="0.55" fill="none"/>
<path d="M235.53,240.75 h2.4 M235.53,264.75 h2.4" stroke="#a4a4a4" stroke-width="0.6" fill="none"/>
<path d="M242.70,239.16 V263.16" stroke="#c4c4c4" stroke-width="0.55" fill="none"/>
<path d="M241.50,239.16 h2.4 M241.50,263.16 h2.4" stroke="#a4a4a4" stroke-width="0.6" fill="none"/>
<path d="M57.48,339.00 L63.45,339.00 L69.42,338.70 L75.40,337.70 L81.38,335.50 L87.35,331.00 L93.32,322.00 L99.30,307.00 L105.28,296.00 L111.25,290.00 L117.22,287.00 L123.20,283.00 L129.18,280.50 L135.15,277.60 L141.12,276.50 L147.10,275.80 L153.07,275.50 L159.05,275.30 L165.02,275.10 L171.00,274.90 L176.97,274.72 L182.95,274.56 L188.92,274.41 L194.90,274.26 L200.88,274.09 L206.85,273.91 L212.82,273.70 L218.80,273.45 L224.77,273.18 L230.75,272.89 L236.72,272.58 L242.70,272.25" stroke="#c77be6" stroke-width="1.7" fill="none" stroke-linejoin="round"/>
<path d="M57.48,339.00 L63.45,339.00 L69.42,338.70 L75.40,337.70 L81.38,335.80 L87.35,331.50 L93.32,323.00 L99.30,309.00 L105.28,297.00 L111.25,288.50 L117.22,276.00 L123.20,270.50 L129.18,269.50 L135.15,267.00 L141.12,267.00 L147.10,267.50 L153.07,268.50 L159.05,269.10 L165.02,270.00 L171.00,269.10 L176.97,268.71 L182.95,268.44 L188.92,268.23 L194.90,268.06 L200.88,267.86 L206.85,267.59 L212.82,267.19 L218.80,266.59 L224.77,265.83 L230.75,264.88 L236.72,263.74 L242.70,262.41" stroke="#eba0a8" stroke-width="1.7" fill="none" stroke-linejoin="round"/>
<path d="M57.48,339.00 L63.45,339.00 L69.42,338.70 L75.40,337.80 L81.38,336.30 L87.35,334.00 L93.32,329.00 L99.30,319.00 L105.28,309.00 L111.25,300.00 L117.22,283.00 L123.20,276.50 L129.18,275.70 L135.15,274.50 L141.12,273.30 L147.10,264.30 L153.07,261.90 L159.05,261.00 L165.02,260.70 L171.00,260.50 L176.97,260.39 L182.95,260.31 L188.92,260.24 L194.90,260.18 L200.88,260.11 L206.85,260.04 L212.82,259.96 L218.80,259.88 L224.77,259.61 L230.75,258.55 L236.72,256.77 L242.70,254.48" stroke="#c8d23a" stroke-width="1.7" fill="none" stroke-linejoin="round"/>
<path d="M57.48,339.00 L63.45,339.00 L69.42,338.70 L75.40,337.80 L81.38,336.00 L87.35,333.00 L93.32,326.00 L99.30,315.00 L105.28,304.00 L111.25,294.00 L117.22,280.00 L123.20,276.00 L129.18,272.00 L135.15,268.50 L141.12,268.00 L147.10,267.30 L153.07,267.00 L159.05,266.50 L165.02,265.50 L171.00,264.90 L176.97,264.54 L182.95,264.28 L188.92,264.08 L194.90,263.87 L200.88,263.62 L206.85,263.25 L212.82,262.59 L218.80,261.20 L224.77,260.23 L230.75,259.49 L236.72,258.90 L242.70,258.53" stroke="#2a8bb0" stroke-width="1.7" fill="none" stroke-linejoin="round"/>
<path d="M57.48,339.00 L63.45,339.00 L69.42,338.70 L75.40,337.80 L81.38,336.00 L87.35,333.00 L93.32,326.00 L99.30,314.00 L105.28,303.00 L111.25,293.40 L117.22,281.30 L123.20,274.00 L129.18,273.00 L135.15,267.00 L141.12,266.70 L147.10,266.70 L153.07,266.50 L159.05,266.40 L165.02,266.30 L171.00,266.10 L176.97,265.83 L182.95,265.50 L188.92,265.12 L194.90,264.65 L200.88,264.08 L206.85,263.41 L212.82,262.41 L218.80,260.56 L224.77,259.35 L230.75,258.46 L236.72,257.77 L242.70,257.42" stroke="#2fae3e" stroke-width="1.7" fill="none" stroke-linejoin="round"/>
<path d="M57.48,339.00 L63.45,339.00 L69.42,338.70 L75.40,337.50 L81.38,335.00 L87.35,329.00 L93.32,317.00 L99.30,300.00 L105.28,287.50 L111.25,279.70 L117.22,269.00 L123.20,263.00 L129.18,262.00 L135.15,260.70 L141.12,260.70 L147.10,260.70 L153.07,260.70 L159.05,263.00 L165.02,263.00 L171.00,263.00 L176.97,262.94 L182.95,262.78 L188.92,262.53 L194.90,262.23 L200.88,261.91 L206.85,261.57 L212.82,261.23 L218.80,260.79 L224.77,260.47 L230.75,260.20 L236.72,259.98 L242.70,259.82" stroke="#8f8ee6" stroke-width="1.7" fill="none" stroke-linejoin="round"/>
<path d="M57.48,339.00 L63.45,339.00 L69.42,338.70 L75.40,337.70 L81.38,335.50 L87.35,330.50 L93.32,320.50 L99.30,304.00 L105.28,291.00 L111.25,284.00 L117.22,270.00 L123.20,262.00 L129.18,263.00 L135.15,258.50 L141.12,258.50 L147.10,258.50 L153.07,258.50 L159.05,258.40 L165.02,258.30 L171.00,258.30 L176.97,258.28 L182.95,258.21 L188.92,258.10 L194.90,257.96 L200.88,257.77 L206.85,257.54 L212.82,257.18 L218.80,256.33 L224.77,255.32 L230.75,254.14 L236.72,252.75 L242.70,251.16" stroke="#de4450" stroke-width="1.7" fill="none" stroke-linejoin="round"/>
<line x1="245.7" y1="229.70" x2="258" y2="229.70" stroke="#de4450" stroke-width="1.4" opacity="0.85"/>
<text x="260.1" y="233.80" font-size="9.8" font-family="Liberation Sans, sans-serif" fill="#1a1a1a">Strep only</text>
<line x1="245.7" y1="246.35" x2="258" y2="246.35" stroke="#8f8ee6" stroke-width="1.4" opacity="0.85"/>
<text x="260.1" y="248.50" font-size="9.8" font-family="Liberation Sans, sans-serif" fill="#1a1a1a">Strep+CASP(0.1 mg/ml)</text>
<line x1="245.7" y1="263.00" x2="258" y2="263.00" stroke="#2fae3e" stroke-width="1.4" opacity="0.85"/>
<text x="260.1" y="265.70" font-size="9.8" font-family="Liberation Sans, sans-serif" fill="#1a1a1a">Strep+CASP(0.2 mg/ml)</text>
<line x1="245.7" y1="279.65" x2="258" y2="279.65" stroke="#eba0a8" stroke-width="1.4" opacity="0.85"/>
<text x="260.1" y="281.80" font-size="9.8" font-family="Liberation Sans, sans-serif" fill="#1a1a1a">Strep+CASP(0.5 mg/ml)</text>
<line x1="245.7" y1="296.30" x2="258" y2="296.30" stroke="#c77be6" stroke-width="1.4" opacity="0.85"/>
<text x="260.1" y="299.00" font-size="9.8" font-family="Liberation Sans, sans-serif" fill="#1a1a1a">Strep+CASP(1.0 mg/ml)</text>
<line x1="245.7" y1="312.95" x2="258" y2="312.95" stroke="#2a8bb0" stroke-width="1.4" opacity="0.85"/>
<text x="260.1" y="315.70" font-size="9.8" font-family="Liberation Sans, sans-serif" fill="#1a1a1a">Strep+CASP(1.5 mg/ml)</text>
<line x1="245.7" y1="329.60" x2="258" y2="329.60" stroke="#c8d23a" stroke-width="1.4" opacity="0.85"/>
<text x="260.1" y="332.90" font-size="9.8" font-family="Liberation Sans, sans-serif" fill="#1a1a1a">Strep+CASP(2.0 mg/ml)</text>
</svg></body></html>
